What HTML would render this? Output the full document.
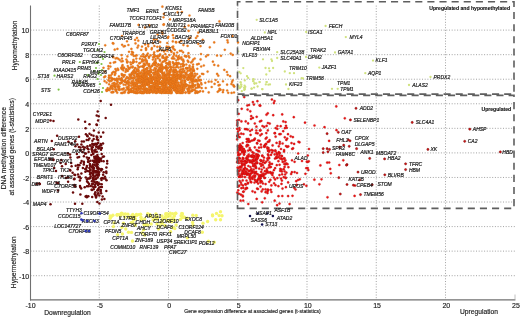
<!DOCTYPE html>
<html><head><meta charset="utf-8"><title>Scatter</title>
<style>
html,body{margin:0;padding:0;background:#fff;}
body{width:520px;height:317px;overflow:hidden;}
svg{display:block;font-family:"Liberation Sans",sans-serif;}
.lb text{font-size:5px;font-style:italic;fill:#1e1e1e;stroke:#1e1e1e;stroke-width:0.2px;}
.tk text{font-size:7px;fill:#1a1a1a;stroke:#1a1a1a;stroke-width:0.15px;}
.ax text{font-size:6.7px;fill:#1a1a1a;stroke:#1a1a1a;stroke-width:0.15px;}
</style></head><body>
<svg width="520" height="317" viewBox="0 0 520 317">
<rect width="520" height="317" fill="#fff"/>
<g stroke="#929292" stroke-width="0.85" stroke-dasharray="1 1.7" fill="none"><line x1="99.25" y1="5.6" x2="99.25" y2="300"/><line x1="168.50" y1="5.6" x2="168.50" y2="300"/><line x1="237.75" y1="5.6" x2="237.75" y2="300"/><line x1="307.00" y1="5.6" x2="307.00" y2="300"/><line x1="376.25" y1="5.6" x2="376.25" y2="300"/><line x1="445.50" y1="5.6" x2="445.50" y2="300"/><line x1="30.5" y1="275.70" x2="515" y2="275.70"/><line x1="30.5" y1="251.14" x2="515" y2="251.14"/><line x1="30.5" y1="226.58" x2="515" y2="226.58"/><line x1="30.5" y1="202.02" x2="515" y2="202.02"/><line x1="30.5" y1="177.46" x2="515" y2="177.46"/><line x1="30.5" y1="152.90" x2="515" y2="152.90"/><line x1="30.5" y1="128.34" x2="515" y2="128.34"/><line x1="30.5" y1="103.78" x2="515" y2="103.78"/><line x1="30.5" y1="79.22" x2="515" y2="79.22"/><line x1="30.5" y1="54.66" x2="515" y2="54.66"/><line x1="30.5" y1="30.10" x2="515" y2="30.10"/></g>
<g stroke="#707070" stroke-width="1.1" fill="none"><line x1="30.5" y1="5.6" x2="30.5" y2="300.4"/><line x1="30" y1="299.9" x2="515.4" y2="299.9"/></g><line x1="515" y1="294.5" x2="515" y2="299.5" stroke="#b0b0b0" stroke-width="0.8"/>
<g opacity="0.8" fill="#f3f34a"><circle cx="153.1" cy="220.0" r="1.7"/><circle cx="157.0" cy="218.9" r="1.7"/><circle cx="144.2" cy="224.9" r="1.7"/><circle cx="172.8" cy="227.8" r="1.7"/><circle cx="155.3" cy="218.3" r="1.7"/><circle cx="196.2" cy="215.5" r="1.7"/><circle cx="180.4" cy="219.4" r="1.7"/><circle cx="157.5" cy="218.7" r="1.7"/><circle cx="132.8" cy="214.5" r="1.7"/><circle cx="149.4" cy="215.4" r="1.7"/><circle cx="122.0" cy="227.4" r="1.7"/><circle cx="167.0" cy="213.8" r="1.7"/><circle cx="176.1" cy="225.0" r="1.7"/><circle cx="148.3" cy="214.8" r="1.7"/><circle cx="121.7" cy="213.3" r="1.7"/><circle cx="132.9" cy="222.8" r="1.7"/><circle cx="160.7" cy="222.3" r="1.7"/><circle cx="125.0" cy="217.1" r="1.7"/><circle cx="162.0" cy="216.0" r="1.7"/><circle cx="149.6" cy="214.7" r="1.7"/><circle cx="174.4" cy="216.1" r="1.7"/><circle cx="114.0" cy="222.9" r="1.7"/><circle cx="171.8" cy="221.7" r="1.7"/><circle cx="166.9" cy="216.6" r="1.7"/><circle cx="165.6" cy="216.9" r="1.7"/><circle cx="149.8" cy="214.5" r="1.7"/><circle cx="165.8" cy="213.7" r="1.7"/><circle cx="150.7" cy="215.9" r="1.7"/><circle cx="112.9" cy="215.2" r="1.7"/><circle cx="167.4" cy="220.5" r="1.7"/><circle cx="140.6" cy="214.2" r="1.7"/><circle cx="110.2" cy="215.9" r="1.7"/><circle cx="147.8" cy="225.2" r="1.7"/><circle cx="168.4" cy="215.8" r="1.7"/><circle cx="219.2" cy="215.6" r="1.7"/><circle cx="117.0" cy="215.1" r="1.7"/><circle cx="121.1" cy="213.6" r="1.7"/><circle cx="182.4" cy="213.8" r="1.7"/><circle cx="141.3" cy="219.6" r="1.7"/><circle cx="120.3" cy="215.5" r="1.7"/><circle cx="144.3" cy="224.5" r="1.7"/><circle cx="131.5" cy="232.4" r="1.7"/><circle cx="181.1" cy="215.8" r="1.7"/><circle cx="133.7" cy="219.7" r="1.7"/><circle cx="162.4" cy="219.8" r="1.7"/><circle cx="117.2" cy="214.7" r="1.7"/><circle cx="162.2" cy="222.7" r="1.7"/><circle cx="167.8" cy="216.0" r="1.7"/><circle cx="149.6" cy="214.6" r="1.7"/><circle cx="142.2" cy="232.9" r="1.7"/><circle cx="129.1" cy="217.3" r="1.7"/><circle cx="127.9" cy="214.2" r="1.7"/><circle cx="154.5" cy="219.4" r="1.7"/><circle cx="141.2" cy="219.4" r="1.7"/><circle cx="125.4" cy="214.0" r="1.7"/><circle cx="134.4" cy="217.4" r="1.7"/><circle cx="136.6" cy="215.4" r="1.7"/><circle cx="132.9" cy="217.1" r="1.7"/><circle cx="144.7" cy="219.0" r="1.7"/><circle cx="170.2" cy="220.0" r="1.7"/><circle cx="172.8" cy="217.9" r="1.7"/><circle cx="110.2" cy="218.3" r="1.7"/><circle cx="157.0" cy="224.0" r="1.7"/><circle cx="187.4" cy="218.2" r="1.7"/><circle cx="151.1" cy="216.7" r="1.7"/><circle cx="117.6" cy="234.6" r="1.7"/><circle cx="172.6" cy="213.8" r="1.7"/><circle cx="143.6" cy="229.8" r="1.7"/><circle cx="144.7" cy="235.0" r="1.7"/><circle cx="146.7" cy="224.6" r="1.7"/><circle cx="123.4" cy="214.3" r="1.7"/><circle cx="170.2" cy="213.2" r="1.7"/><circle cx="113.4" cy="226.6" r="1.7"/><circle cx="174.5" cy="220.2" r="1.7"/><circle cx="136.4" cy="214.5" r="1.7"/><circle cx="175.8" cy="213.2" r="1.7"/><circle cx="131.8" cy="215.6" r="1.7"/><circle cx="162.8" cy="219.1" r="1.7"/><circle cx="155.9" cy="213.9" r="1.7"/><circle cx="166.0" cy="215.1" r="1.7"/><circle cx="174.8" cy="228.6" r="1.7"/><circle cx="208.4" cy="241.2" r="1.7"/><circle cx="111.3" cy="216.6" r="1.7"/><circle cx="158.5" cy="229.1" r="1.7"/><circle cx="123.5" cy="223.3" r="1.7"/><circle cx="147.7" cy="213.7" r="1.7"/><circle cx="125.8" cy="229.0" r="1.7"/><circle cx="135.2" cy="225.2" r="1.7"/><circle cx="183.8" cy="216.9" r="1.7"/><circle cx="192.6" cy="222.5" r="1.7"/><circle cx="128.5" cy="232.3" r="1.7"/><circle cx="156.8" cy="215.1" r="1.7"/><circle cx="148.4" cy="214.8" r="1.7"/><circle cx="138.7" cy="214.6" r="1.7"/><circle cx="117.8" cy="214.6" r="1.7"/><circle cx="182.3" cy="217.5" r="1.7"/><circle cx="141.0" cy="217.3" r="1.7"/><circle cx="207.6" cy="221.5" r="1.7"/><circle cx="160.1" cy="225.9" r="1.7"/><circle cx="135.7" cy="215.7" r="1.7"/><circle cx="169.1" cy="221.2" r="1.7"/><circle cx="131.2" cy="217.6" r="1.7"/><circle cx="120.9" cy="214.1" r="1.7"/><circle cx="184.6" cy="217.4" r="1.7"/><circle cx="131.3" cy="222.6" r="1.7"/><circle cx="168.3" cy="215.7" r="1.7"/><circle cx="203.0" cy="223.3" r="1.7"/><circle cx="173.6" cy="219.3" r="1.7"/><circle cx="166.0" cy="217.1" r="1.7"/><circle cx="117.9" cy="214.6" r="1.7"/><circle cx="182.3" cy="216.6" r="1.7"/><circle cx="212.5" cy="214.9" r="1.7"/><circle cx="151.2" cy="224.0" r="1.7"/><circle cx="135.4" cy="219.1" r="1.7"/><circle cx="192.8" cy="215.2" r="1.7"/><circle cx="193.0" cy="225.3" r="1.7"/><circle cx="162.3" cy="223.4" r="1.7"/><circle cx="170.6" cy="231.8" r="1.7"/><circle cx="156.5" cy="216.3" r="1.7"/><circle cx="165.3" cy="217.4" r="1.7"/><circle cx="165.0" cy="225.4" r="1.7"/><circle cx="170.2" cy="216.1" r="1.7"/><circle cx="163.6" cy="218.4" r="1.7"/><circle cx="168.2" cy="214.4" r="1.7"/><circle cx="157.2" cy="216.6" r="1.7"/><circle cx="175.5" cy="213.4" r="1.7"/><circle cx="181.8" cy="213.4" r="1.7"/><circle cx="212.6" cy="215.8" r="1.7"/><circle cx="216.5" cy="213.4" r="1.7"/><circle cx="220.5" cy="211.8" r="1.7"/><circle cx="222.0" cy="215.8" r="1.7"/><circle cx="215.7" cy="219.7" r="1.7"/><circle cx="220.5" cy="219.7" r="1.7"/><circle cx="202.3" cy="232.3" r="1.7"/><circle cx="187.3" cy="237.9" r="1.7"/><circle cx="214.2" cy="242.3" r="1.7"/><circle cx="122.4" cy="234.0" r="1.7"/><circle cx="132.5" cy="241.0" r="1.7"/></g>
<g fill="#d0e27e"><circle cx="240.6" cy="82.3" r="1.15"/><circle cx="241.2" cy="84.6" r="1.15"/><circle cx="253.3" cy="81.2" r="1.15"/><circle cx="254.5" cy="83.5" r="1.15"/><circle cx="259.6" cy="82.1" r="1.15"/><circle cx="266.6" cy="82.1" r="1.15"/><circle cx="239.5" cy="88.1" r="1.15"/><circle cx="244.7" cy="89.0" r="1.15"/><circle cx="251.6" cy="88.7" r="1.15"/><circle cx="262.3" cy="89.2" r="1.15"/><circle cx="253.4" cy="79.1" r="1.15"/><circle cx="254.1" cy="87.6" r="1.15"/><circle cx="238.6" cy="86.0" r="1.15"/><circle cx="238.2" cy="51.3" r="1.15"/><circle cx="248.1" cy="77.9" r="1.15"/><circle cx="284.8" cy="71.5" r="1.15"/><circle cx="241.4" cy="86.5" r="1.15"/><circle cx="239.3" cy="72.0" r="1.15"/><circle cx="256.3" cy="83.3" r="1.15"/><circle cx="244.1" cy="87.6" r="1.15"/><circle cx="247.0" cy="76.2" r="1.15"/><circle cx="269.0" cy="68.3" r="1.15"/><circle cx="265.8" cy="84.4" r="1.15"/><circle cx="245.3" cy="86.9" r="1.15"/><circle cx="288.4" cy="89.0" r="1.15"/><circle cx="240.1" cy="87.5" r="1.15"/><circle cx="273.1" cy="68.0" r="1.15"/><circle cx="243.3" cy="68.1" r="1.15"/><circle cx="268.4" cy="84.7" r="1.15"/><circle cx="240.7" cy="73.3" r="1.15"/><circle cx="244.3" cy="89.9" r="1.15"/><circle cx="270.0" cy="84.4" r="1.15"/><circle cx="244.8" cy="80.4" r="1.15"/><circle cx="241.8" cy="91.2" r="1.15"/><circle cx="244.6" cy="85.6" r="1.15"/><circle cx="237.9" cy="85.8" r="1.15"/><circle cx="257.6" cy="86.5" r="1.15"/><circle cx="253.5" cy="79.5" r="1.15"/><circle cx="240.6" cy="82.3" r="1.15"/><circle cx="241.2" cy="84.6" r="1.15"/><circle cx="253.3" cy="81.2" r="1.15"/><circle cx="254.5" cy="83.5" r="1.15"/><circle cx="259.6" cy="82.1" r="1.15"/><circle cx="266.6" cy="82.1" r="1.15"/><circle cx="239.5" cy="88.1" r="1.15"/><circle cx="244.7" cy="89.0" r="1.15"/><circle cx="251.6" cy="88.7" r="1.15"/><circle cx="262.3" cy="89.2" r="1.15"/><circle cx="256.7" cy="19.8" r="1.15"/><circle cx="264.8" cy="32.5" r="1.15"/><circle cx="325.6" cy="26.0" r="1.15"/><circle cx="306.2" cy="32.0" r="1.15"/><circle cx="345.8" cy="37.1" r="1.15"/><circle cx="277.2" cy="52.2" r="1.15"/><circle cx="335.0" cy="52.5" r="1.15"/><circle cx="277.2" cy="58.0" r="1.15"/><circle cx="373.0" cy="60.6" r="1.15"/><circle cx="319.3" cy="67.6" r="1.15"/><circle cx="365.3" cy="73.2" r="1.15"/><circle cx="430.5" cy="77.0" r="1.15"/><circle cx="286.0" cy="84.5" r="1.15"/><circle cx="332.0" cy="88.8" r="1.15"/><circle cx="337.7" cy="88.8" r="1.15"/><circle cx="409.0" cy="85.0" r="1.15"/><circle cx="303.0" cy="78.5" r="1.15"/><circle cx="306.0" cy="57.0" r="1.15"/><circle cx="263.0" cy="59.3" r="1.15"/><circle cx="271.4" cy="59.3" r="1.15"/><circle cx="272.0" cy="61.0" r="1.15"/><circle cx="265.5" cy="68.0" r="1.15"/><circle cx="269.6" cy="71.0" r="1.15"/><circle cx="266.3" cy="74.5" r="1.15"/><circle cx="289.8" cy="73.2" r="1.15"/><circle cx="294.0" cy="73.2" r="1.15"/><circle cx="301.6" cy="78.2" r="1.15"/></g>
<g fill="#f07a18" stroke="#cc6a1a" stroke-width="0.25"><circle cx="152.1" cy="83.0" r="1.12"/><circle cx="152.8" cy="86.9" r="1.12"/><circle cx="136.2" cy="88.9" r="1.12"/><circle cx="184.3" cy="84.8" r="1.12"/><circle cx="182.5" cy="88.2" r="1.12"/><circle cx="167.4" cy="89.5" r="1.12"/><circle cx="118.9" cy="76.3" r="1.12"/><circle cx="170.0" cy="83.3" r="1.12"/><circle cx="118.3" cy="58.8" r="1.12"/><circle cx="137.2" cy="83.9" r="1.12"/><circle cx="165.3" cy="92.2" r="1.12"/><circle cx="170.4" cy="80.5" r="1.12"/><circle cx="165.4" cy="85.4" r="1.12"/><circle cx="142.5" cy="59.4" r="1.12"/><circle cx="171.2" cy="69.6" r="1.12"/><circle cx="143.5" cy="78.6" r="1.12"/><circle cx="150.0" cy="91.0" r="1.12"/><circle cx="173.0" cy="88.2" r="1.12"/><circle cx="147.6" cy="74.3" r="1.12"/><circle cx="145.9" cy="69.1" r="1.12"/><circle cx="139.1" cy="88.3" r="1.12"/><circle cx="168.2" cy="63.8" r="1.12"/><circle cx="159.3" cy="67.4" r="1.12"/><circle cx="110.7" cy="86.8" r="1.12"/><circle cx="155.6" cy="77.0" r="1.12"/><circle cx="169.8" cy="91.9" r="1.12"/><circle cx="123.6" cy="76.8" r="1.12"/><circle cx="173.9" cy="74.5" r="1.12"/><circle cx="192.0" cy="86.0" r="1.12"/><circle cx="160.9" cy="67.6" r="1.12"/><circle cx="172.6" cy="81.1" r="1.12"/><circle cx="147.5" cy="68.2" r="1.12"/><circle cx="135.3" cy="82.7" r="1.12"/><circle cx="188.5" cy="53.2" r="1.12"/><circle cx="123.8" cy="88.4" r="1.12"/><circle cx="192.1" cy="81.7" r="1.12"/><circle cx="113.4" cy="43.6" r="1.12"/><circle cx="166.5" cy="78.6" r="1.12"/><circle cx="131.7" cy="73.9" r="1.12"/><circle cx="184.1" cy="90.0" r="1.12"/><circle cx="163.9" cy="84.6" r="1.12"/><circle cx="195.6" cy="80.9" r="1.12"/><circle cx="170.3" cy="82.3" r="1.12"/><circle cx="121.2" cy="67.9" r="1.12"/><circle cx="180.6" cy="82.7" r="1.12"/><circle cx="111.6" cy="80.6" r="1.12"/><circle cx="177.9" cy="57.5" r="1.12"/><circle cx="153.8" cy="73.1" r="1.12"/><circle cx="127.2" cy="61.5" r="1.12"/><circle cx="171.1" cy="90.1" r="1.12"/><circle cx="165.8" cy="80.3" r="1.12"/><circle cx="160.9" cy="70.6" r="1.12"/><circle cx="142.5" cy="84.9" r="1.12"/><circle cx="182.6" cy="92.6" r="1.12"/><circle cx="137.4" cy="74.5" r="1.12"/><circle cx="192.6" cy="84.4" r="1.12"/><circle cx="125.6" cy="90.4" r="1.12"/><circle cx="154.6" cy="87.2" r="1.12"/><circle cx="191.2" cy="72.9" r="1.12"/><circle cx="187.8" cy="68.2" r="1.12"/><circle cx="139.6" cy="80.7" r="1.12"/><circle cx="184.7" cy="76.2" r="1.12"/><circle cx="166.2" cy="90.3" r="1.12"/><circle cx="161.7" cy="81.8" r="1.12"/><circle cx="154.0" cy="87.6" r="1.12"/><circle cx="171.6" cy="93.1" r="1.12"/><circle cx="176.1" cy="82.0" r="1.12"/><circle cx="165.8" cy="84.7" r="1.12"/><circle cx="149.3" cy="92.8" r="1.12"/><circle cx="179.9" cy="86.5" r="1.12"/><circle cx="167.2" cy="57.0" r="1.12"/><circle cx="131.7" cy="88.3" r="1.12"/><circle cx="167.5" cy="88.4" r="1.12"/><circle cx="148.0" cy="80.2" r="1.12"/><circle cx="164.8" cy="82.8" r="1.12"/><circle cx="166.5" cy="82.2" r="1.12"/><circle cx="155.8" cy="88.7" r="1.12"/><circle cx="156.6" cy="39.5" r="1.12"/><circle cx="146.6" cy="73.3" r="1.12"/><circle cx="130.6" cy="91.8" r="1.12"/><circle cx="180.6" cy="76.3" r="1.12"/><circle cx="193.2" cy="59.7" r="1.12"/><circle cx="149.8" cy="86.4" r="1.12"/><circle cx="172.8" cy="71.6" r="1.12"/><circle cx="183.7" cy="64.7" r="1.12"/><circle cx="174.2" cy="63.8" r="1.12"/><circle cx="162.3" cy="69.6" r="1.12"/><circle cx="154.6" cy="89.3" r="1.12"/><circle cx="176.9" cy="90.3" r="1.12"/><circle cx="156.0" cy="63.0" r="1.12"/><circle cx="182.8" cy="87.3" r="1.12"/><circle cx="131.1" cy="75.1" r="1.12"/><circle cx="151.9" cy="90.5" r="1.12"/><circle cx="174.7" cy="88.7" r="1.12"/><circle cx="173.1" cy="63.1" r="1.12"/><circle cx="122.6" cy="81.0" r="1.12"/><circle cx="135.4" cy="72.9" r="1.12"/><circle cx="123.5" cy="68.2" r="1.12"/><circle cx="175.7" cy="64.2" r="1.12"/><circle cx="136.0" cy="93.1" r="1.12"/><circle cx="131.3" cy="78.0" r="1.12"/><circle cx="195.5" cy="75.6" r="1.12"/><circle cx="194.9" cy="73.7" r="1.12"/><circle cx="153.9" cy="54.4" r="1.12"/><circle cx="191.2" cy="91.2" r="1.12"/><circle cx="143.9" cy="85.2" r="1.12"/><circle cx="167.8" cy="63.7" r="1.12"/><circle cx="134.1" cy="70.8" r="1.12"/><circle cx="193.1" cy="64.6" r="1.12"/><circle cx="153.9" cy="78.5" r="1.12"/><circle cx="182.1" cy="90.8" r="1.12"/><circle cx="161.0" cy="65.1" r="1.12"/><circle cx="151.9" cy="48.0" r="1.12"/><circle cx="149.0" cy="56.7" r="1.12"/><circle cx="177.4" cy="86.9" r="1.12"/><circle cx="143.7" cy="92.9" r="1.12"/><circle cx="177.7" cy="91.5" r="1.12"/><circle cx="189.3" cy="91.9" r="1.12"/><circle cx="182.6" cy="63.8" r="1.12"/><circle cx="196.0" cy="79.9" r="1.12"/><circle cx="178.8" cy="56.2" r="1.12"/><circle cx="132.6" cy="54.5" r="1.12"/><circle cx="183.3" cy="68.9" r="1.12"/><circle cx="157.8" cy="89.3" r="1.12"/><circle cx="157.4" cy="81.5" r="1.12"/><circle cx="163.6" cy="57.9" r="1.12"/><circle cx="159.2" cy="82.7" r="1.12"/><circle cx="181.7" cy="89.2" r="1.12"/><circle cx="128.5" cy="82.2" r="1.12"/><circle cx="183.4" cy="60.8" r="1.12"/><circle cx="144.0" cy="73.3" r="1.12"/><circle cx="176.8" cy="92.9" r="1.12"/><circle cx="177.1" cy="89.8" r="1.12"/><circle cx="130.4" cy="62.4" r="1.12"/><circle cx="143.1" cy="75.0" r="1.12"/><circle cx="144.8" cy="75.4" r="1.12"/><circle cx="140.0" cy="63.0" r="1.12"/><circle cx="155.4" cy="69.9" r="1.12"/><circle cx="166.7" cy="46.7" r="1.12"/><circle cx="165.8" cy="80.5" r="1.12"/><circle cx="112.4" cy="78.9" r="1.12"/><circle cx="151.6" cy="49.3" r="1.12"/><circle cx="137.5" cy="87.4" r="1.12"/><circle cx="147.3" cy="77.8" r="1.12"/><circle cx="175.7" cy="80.0" r="1.12"/><circle cx="165.8" cy="66.9" r="1.12"/><circle cx="173.6" cy="84.2" r="1.12"/><circle cx="109.0" cy="75.5" r="1.12"/><circle cx="188.9" cy="87.3" r="1.12"/><circle cx="147.1" cy="55.0" r="1.12"/><circle cx="116.7" cy="83.9" r="1.12"/><circle cx="136.3" cy="79.5" r="1.12"/><circle cx="155.3" cy="82.1" r="1.12"/><circle cx="179.4" cy="75.3" r="1.12"/><circle cx="156.0" cy="87.3" r="1.12"/><circle cx="177.5" cy="92.4" r="1.12"/><circle cx="153.5" cy="73.1" r="1.12"/><circle cx="149.7" cy="75.6" r="1.12"/><circle cx="160.5" cy="76.3" r="1.12"/><circle cx="138.3" cy="40.7" r="1.12"/><circle cx="185.0" cy="80.6" r="1.12"/><circle cx="172.7" cy="83.7" r="1.12"/><circle cx="197.8" cy="84.7" r="1.12"/><circle cx="156.5" cy="82.8" r="1.12"/><circle cx="112.3" cy="72.8" r="1.12"/><circle cx="165.8" cy="79.3" r="1.12"/><circle cx="189.3" cy="57.5" r="1.12"/><circle cx="125.1" cy="80.0" r="1.12"/><circle cx="165.0" cy="89.5" r="1.12"/><circle cx="148.7" cy="74.0" r="1.12"/><circle cx="182.5" cy="69.6" r="1.12"/><circle cx="126.4" cy="59.6" r="1.12"/><circle cx="181.4" cy="57.3" r="1.12"/><circle cx="177.2" cy="76.0" r="1.12"/><circle cx="164.2" cy="50.7" r="1.12"/><circle cx="140.5" cy="91.9" r="1.12"/><circle cx="170.4" cy="78.8" r="1.12"/><circle cx="155.2" cy="84.1" r="1.12"/><circle cx="167.0" cy="80.6" r="1.12"/><circle cx="163.0" cy="86.7" r="1.12"/><circle cx="176.7" cy="92.1" r="1.12"/><circle cx="138.7" cy="80.8" r="1.12"/><circle cx="158.1" cy="90.9" r="1.12"/><circle cx="161.8" cy="93.1" r="1.12"/><circle cx="162.3" cy="90.5" r="1.12"/><circle cx="128.5" cy="84.8" r="1.12"/><circle cx="182.9" cy="84.6" r="1.12"/><circle cx="153.7" cy="84.3" r="1.12"/><circle cx="135.4" cy="55.8" r="1.12"/><circle cx="159.5" cy="74.8" r="1.12"/><circle cx="175.5" cy="71.8" r="1.12"/><circle cx="133.6" cy="62.1" r="1.12"/><circle cx="149.1" cy="66.2" r="1.12"/><circle cx="140.1" cy="82.9" r="1.12"/><circle cx="169.8" cy="89.6" r="1.12"/><circle cx="193.1" cy="79.2" r="1.12"/><circle cx="157.6" cy="81.4" r="1.12"/><circle cx="197.1" cy="74.0" r="1.12"/><circle cx="182.2" cy="71.8" r="1.12"/><circle cx="154.6" cy="78.8" r="1.12"/><circle cx="151.1" cy="72.1" r="1.12"/><circle cx="172.2" cy="75.3" r="1.12"/><circle cx="153.1" cy="43.1" r="1.12"/><circle cx="187.3" cy="88.9" r="1.12"/><circle cx="160.2" cy="42.1" r="1.12"/><circle cx="150.0" cy="75.9" r="1.12"/><circle cx="181.2" cy="93.0" r="1.12"/><circle cx="130.6" cy="89.4" r="1.12"/><circle cx="166.6" cy="70.9" r="1.12"/><circle cx="176.5" cy="92.6" r="1.12"/><circle cx="178.2" cy="82.5" r="1.12"/><circle cx="163.0" cy="92.0" r="1.12"/><circle cx="152.4" cy="79.6" r="1.12"/><circle cx="133.3" cy="80.7" r="1.12"/><circle cx="158.2" cy="64.3" r="1.12"/><circle cx="147.8" cy="53.6" r="1.12"/><circle cx="142.0" cy="81.9" r="1.12"/><circle cx="171.4" cy="92.0" r="1.12"/><circle cx="152.6" cy="65.3" r="1.12"/><circle cx="201.1" cy="83.0" r="1.12"/><circle cx="183.9" cy="75.8" r="1.12"/><circle cx="153.8" cy="57.3" r="1.12"/><circle cx="176.5" cy="74.7" r="1.12"/><circle cx="113.4" cy="92.1" r="1.12"/><circle cx="173.0" cy="58.5" r="1.12"/><circle cx="115.1" cy="72.2" r="1.12"/><circle cx="143.3" cy="65.5" r="1.12"/><circle cx="158.9" cy="88.2" r="1.12"/><circle cx="173.0" cy="79.3" r="1.12"/><circle cx="193.5" cy="70.2" r="1.12"/><circle cx="127.2" cy="83.2" r="1.12"/><circle cx="133.2" cy="71.9" r="1.12"/><circle cx="156.2" cy="93.0" r="1.12"/><circle cx="169.7" cy="61.9" r="1.12"/><circle cx="129.0" cy="92.6" r="1.12"/><circle cx="153.4" cy="87.0" r="1.12"/><circle cx="156.6" cy="78.2" r="1.12"/><circle cx="174.6" cy="86.1" r="1.12"/><circle cx="156.0" cy="79.9" r="1.12"/><circle cx="154.0" cy="39.6" r="1.12"/><circle cx="135.0" cy="92.4" r="1.12"/><circle cx="122.7" cy="89.2" r="1.12"/><circle cx="161.6" cy="66.0" r="1.12"/><circle cx="152.2" cy="86.9" r="1.12"/><circle cx="168.9" cy="81.1" r="1.12"/><circle cx="157.3" cy="76.4" r="1.12"/><circle cx="154.7" cy="91.8" r="1.12"/><circle cx="175.4" cy="87.3" r="1.12"/><circle cx="141.1" cy="66.5" r="1.12"/><circle cx="149.3" cy="78.5" r="1.12"/><circle cx="131.9" cy="90.8" r="1.12"/><circle cx="146.6" cy="91.0" r="1.12"/><circle cx="170.4" cy="85.0" r="1.12"/><circle cx="150.5" cy="71.5" r="1.12"/><circle cx="161.0" cy="71.2" r="1.12"/><circle cx="140.4" cy="88.2" r="1.12"/><circle cx="172.3" cy="47.2" r="1.12"/><circle cx="165.7" cy="68.0" r="1.12"/><circle cx="176.2" cy="74.5" r="1.12"/><circle cx="170.1" cy="90.0" r="1.12"/><circle cx="170.1" cy="71.9" r="1.12"/><circle cx="185.9" cy="73.1" r="1.12"/><circle cx="164.0" cy="51.4" r="1.12"/><circle cx="152.9" cy="92.7" r="1.12"/><circle cx="185.5" cy="92.6" r="1.12"/><circle cx="139.1" cy="88.0" r="1.12"/><circle cx="171.8" cy="79.1" r="1.12"/><circle cx="139.9" cy="58.7" r="1.12"/><circle cx="197.4" cy="92.7" r="1.12"/><circle cx="164.4" cy="84.7" r="1.12"/><circle cx="191.4" cy="79.2" r="1.12"/><circle cx="174.0" cy="83.7" r="1.12"/><circle cx="141.8" cy="79.0" r="1.12"/><circle cx="189.5" cy="92.9" r="1.12"/><circle cx="142.2" cy="77.2" r="1.12"/><circle cx="156.9" cy="87.0" r="1.12"/><circle cx="194.0" cy="70.9" r="1.12"/><circle cx="145.9" cy="48.2" r="1.12"/><circle cx="158.2" cy="77.7" r="1.12"/><circle cx="142.9" cy="92.2" r="1.12"/><circle cx="116.9" cy="58.0" r="1.12"/><circle cx="190.3" cy="69.2" r="1.12"/><circle cx="122.7" cy="61.2" r="1.12"/><circle cx="185.8" cy="84.1" r="1.12"/><circle cx="156.7" cy="87.0" r="1.12"/><circle cx="155.3" cy="71.7" r="1.12"/><circle cx="158.7" cy="64.8" r="1.12"/><circle cx="156.4" cy="87.0" r="1.12"/><circle cx="169.1" cy="88.5" r="1.12"/><circle cx="136.8" cy="90.0" r="1.12"/><circle cx="146.7" cy="62.3" r="1.12"/><circle cx="176.2" cy="90.8" r="1.12"/><circle cx="147.0" cy="79.3" r="1.12"/><circle cx="136.0" cy="86.2" r="1.12"/><circle cx="165.1" cy="83.0" r="1.12"/><circle cx="171.5" cy="51.9" r="1.12"/><circle cx="141.5" cy="92.8" r="1.12"/><circle cx="114.2" cy="82.9" r="1.12"/><circle cx="162.1" cy="90.1" r="1.12"/><circle cx="167.7" cy="88.4" r="1.12"/><circle cx="166.7" cy="92.1" r="1.12"/><circle cx="176.3" cy="55.9" r="1.12"/><circle cx="137.3" cy="93.1" r="1.12"/><circle cx="133.8" cy="72.6" r="1.12"/><circle cx="172.9" cy="80.3" r="1.12"/><circle cx="173.1" cy="78.4" r="1.12"/><circle cx="165.3" cy="83.1" r="1.12"/><circle cx="155.6" cy="65.4" r="1.12"/><circle cx="157.4" cy="84.2" r="1.12"/><circle cx="145.6" cy="91.1" r="1.12"/><circle cx="175.8" cy="75.8" r="1.12"/><circle cx="173.2" cy="56.5" r="1.12"/><circle cx="145.1" cy="90.2" r="1.12"/><circle cx="154.6" cy="62.8" r="1.12"/><circle cx="165.6" cy="75.5" r="1.12"/><circle cx="141.9" cy="92.8" r="1.12"/><circle cx="157.9" cy="58.2" r="1.12"/><circle cx="192.0" cy="75.4" r="1.12"/><circle cx="116.9" cy="78.5" r="1.12"/><circle cx="155.0" cy="84.3" r="1.12"/><circle cx="166.7" cy="63.6" r="1.12"/><circle cx="153.1" cy="63.8" r="1.12"/><circle cx="144.6" cy="73.0" r="1.12"/><circle cx="126.1" cy="69.1" r="1.12"/><circle cx="166.0" cy="59.8" r="1.12"/><circle cx="168.2" cy="88.3" r="1.12"/><circle cx="145.9" cy="79.9" r="1.12"/><circle cx="170.6" cy="82.3" r="1.12"/><circle cx="134.2" cy="70.1" r="1.12"/><circle cx="165.0" cy="88.2" r="1.12"/><circle cx="127.3" cy="89.1" r="1.12"/><circle cx="145.3" cy="84.1" r="1.12"/><circle cx="155.4" cy="91.4" r="1.12"/><circle cx="149.8" cy="72.4" r="1.12"/><circle cx="190.9" cy="85.9" r="1.12"/><circle cx="178.0" cy="78.2" r="1.12"/><circle cx="159.8" cy="78.4" r="1.12"/><circle cx="193.8" cy="85.6" r="1.12"/><circle cx="156.4" cy="89.2" r="1.12"/><circle cx="122.8" cy="92.8" r="1.12"/><circle cx="142.2" cy="85.8" r="1.12"/><circle cx="131.5" cy="54.3" r="1.12"/><circle cx="159.0" cy="88.0" r="1.12"/><circle cx="145.2" cy="75.6" r="1.12"/><circle cx="151.7" cy="81.2" r="1.12"/><circle cx="169.4" cy="62.3" r="1.12"/><circle cx="142.2" cy="92.7" r="1.12"/><circle cx="178.1" cy="89.9" r="1.12"/><circle cx="165.4" cy="80.2" r="1.12"/><circle cx="165.2" cy="60.4" r="1.12"/><circle cx="142.0" cy="46.6" r="1.12"/><circle cx="143.0" cy="92.8" r="1.12"/><circle cx="162.2" cy="73.0" r="1.12"/><circle cx="129.0" cy="51.8" r="1.12"/><circle cx="172.4" cy="77.5" r="1.12"/><circle cx="172.8" cy="41.4" r="1.12"/><circle cx="162.9" cy="88.1" r="1.12"/><circle cx="180.0" cy="85.8" r="1.12"/><circle cx="197.3" cy="68.8" r="1.12"/><circle cx="149.3" cy="25.4" r="1.12"/><circle cx="177.2" cy="85.8" r="1.12"/><circle cx="179.9" cy="50.8" r="1.12"/><circle cx="158.0" cy="88.1" r="1.12"/><circle cx="146.3" cy="76.6" r="1.12"/><circle cx="143.3" cy="80.5" r="1.12"/><circle cx="159.0" cy="91.8" r="1.12"/><circle cx="154.0" cy="75.1" r="1.12"/><circle cx="169.7" cy="90.3" r="1.12"/><circle cx="173.8" cy="90.1" r="1.12"/><circle cx="131.0" cy="64.5" r="1.12"/><circle cx="169.1" cy="74.3" r="1.12"/><circle cx="183.5" cy="86.3" r="1.12"/><circle cx="121.3" cy="61.5" r="1.12"/><circle cx="166.0" cy="75.6" r="1.12"/><circle cx="162.8" cy="90.2" r="1.12"/><circle cx="121.7" cy="74.0" r="1.12"/><circle cx="158.8" cy="87.5" r="1.12"/><circle cx="166.4" cy="91.6" r="1.12"/><circle cx="174.0" cy="85.8" r="1.12"/><circle cx="157.3" cy="51.1" r="1.12"/><circle cx="148.1" cy="79.8" r="1.12"/><circle cx="189.6" cy="85.9" r="1.12"/><circle cx="155.3" cy="62.0" r="1.12"/><circle cx="150.4" cy="78.7" r="1.12"/><circle cx="197.6" cy="92.3" r="1.12"/><circle cx="187.0" cy="79.1" r="1.12"/><circle cx="163.0" cy="91.6" r="1.12"/><circle cx="160.8" cy="70.9" r="1.12"/><circle cx="142.4" cy="81.8" r="1.12"/><circle cx="169.8" cy="72.4" r="1.12"/><circle cx="169.8" cy="81.9" r="1.12"/><circle cx="151.6" cy="82.7" r="1.12"/><circle cx="121.6" cy="78.2" r="1.12"/><circle cx="121.7" cy="79.4" r="1.12"/><circle cx="145.0" cy="85.2" r="1.12"/><circle cx="178.3" cy="91.5" r="1.12"/><circle cx="148.8" cy="82.4" r="1.12"/><circle cx="195.3" cy="93.0" r="1.12"/><circle cx="166.7" cy="68.7" r="1.12"/><circle cx="164.4" cy="67.9" r="1.12"/><circle cx="111.4" cy="92.3" r="1.12"/><circle cx="167.9" cy="74.1" r="1.12"/><circle cx="173.9" cy="87.7" r="1.12"/><circle cx="133.3" cy="91.1" r="1.12"/><circle cx="182.4" cy="71.7" r="1.12"/><circle cx="133.9" cy="92.6" r="1.12"/><circle cx="112.5" cy="88.0" r="1.12"/><circle cx="147.8" cy="84.2" r="1.12"/><circle cx="141.6" cy="75.8" r="1.12"/><circle cx="148.8" cy="92.1" r="1.12"/><circle cx="142.5" cy="92.9" r="1.12"/><circle cx="175.8" cy="69.8" r="1.12"/><circle cx="198.3" cy="77.7" r="1.12"/><circle cx="148.2" cy="44.3" r="1.12"/><circle cx="141.0" cy="92.4" r="1.12"/><circle cx="170.4" cy="66.4" r="1.12"/><circle cx="169.0" cy="92.6" r="1.12"/><circle cx="115.1" cy="87.4" r="1.12"/><circle cx="186.2" cy="56.4" r="1.12"/><circle cx="177.1" cy="89.0" r="1.12"/><circle cx="169.3" cy="84.4" r="1.12"/><circle cx="188.8" cy="88.7" r="1.12"/><circle cx="178.7" cy="85.0" r="1.12"/><circle cx="175.3" cy="77.1" r="1.12"/><circle cx="155.6" cy="59.1" r="1.12"/><circle cx="168.6" cy="90.0" r="1.12"/><circle cx="131.2" cy="77.6" r="1.12"/><circle cx="162.7" cy="74.6" r="1.12"/><circle cx="168.1" cy="82.8" r="1.12"/><circle cx="157.1" cy="66.5" r="1.12"/><circle cx="148.9" cy="82.3" r="1.12"/><circle cx="179.0" cy="91.8" r="1.12"/><circle cx="151.6" cy="81.8" r="1.12"/><circle cx="152.1" cy="80.8" r="1.12"/><circle cx="166.4" cy="69.3" r="1.12"/><circle cx="168.2" cy="89.6" r="1.12"/><circle cx="134.6" cy="77.9" r="1.12"/><circle cx="151.5" cy="86.5" r="1.12"/><circle cx="176.8" cy="67.1" r="1.12"/><circle cx="141.9" cy="84.5" r="1.12"/><circle cx="137.5" cy="47.6" r="1.12"/><circle cx="146.5" cy="69.6" r="1.12"/><circle cx="142.9" cy="77.2" r="1.12"/><circle cx="147.9" cy="83.3" r="1.12"/><circle cx="155.9" cy="80.0" r="1.12"/><circle cx="160.0" cy="60.8" r="1.12"/><circle cx="178.2" cy="59.3" r="1.12"/><circle cx="185.2" cy="81.7" r="1.12"/><circle cx="161.5" cy="68.3" r="1.12"/><circle cx="160.9" cy="65.8" r="1.12"/><circle cx="118.2" cy="69.9" r="1.12"/><circle cx="175.5" cy="77.1" r="1.12"/><circle cx="178.3" cy="83.3" r="1.12"/><circle cx="173.4" cy="48.7" r="1.12"/><circle cx="151.0" cy="75.4" r="1.12"/><circle cx="175.4" cy="75.8" r="1.12"/><circle cx="162.1" cy="83.4" r="1.12"/><circle cx="135.7" cy="86.6" r="1.12"/><circle cx="159.0" cy="75.7" r="1.12"/><circle cx="147.7" cy="70.6" r="1.12"/><circle cx="139.6" cy="87.9" r="1.12"/><circle cx="145.7" cy="90.0" r="1.12"/><circle cx="141.8" cy="61.7" r="1.12"/><circle cx="183.8" cy="87.1" r="1.12"/><circle cx="145.0" cy="89.1" r="1.12"/><circle cx="181.4" cy="73.9" r="1.12"/><circle cx="155.5" cy="82.5" r="1.12"/><circle cx="170.5" cy="86.5" r="1.12"/><circle cx="108.5" cy="68.7" r="1.12"/><circle cx="165.8" cy="92.8" r="1.12"/><circle cx="151.6" cy="87.9" r="1.12"/><circle cx="148.1" cy="73.0" r="1.12"/><circle cx="140.7" cy="81.4" r="1.12"/><circle cx="143.7" cy="70.3" r="1.12"/><circle cx="173.1" cy="67.4" r="1.12"/><circle cx="173.6" cy="73.2" r="1.12"/><circle cx="166.4" cy="66.1" r="1.12"/><circle cx="162.9" cy="78.7" r="1.12"/><circle cx="159.2" cy="90.2" r="1.12"/><circle cx="117.3" cy="81.2" r="1.12"/><circle cx="162.0" cy="83.9" r="1.12"/><circle cx="160.0" cy="78.7" r="1.12"/><circle cx="176.2" cy="75.3" r="1.12"/><circle cx="172.0" cy="87.4" r="1.12"/><circle cx="157.7" cy="87.8" r="1.12"/><circle cx="150.7" cy="89.6" r="1.12"/><circle cx="117.5" cy="86.6" r="1.12"/><circle cx="157.5" cy="74.0" r="1.12"/><circle cx="157.5" cy="83.0" r="1.12"/><circle cx="154.2" cy="52.3" r="1.12"/><circle cx="153.3" cy="57.2" r="1.12"/><circle cx="181.2" cy="40.9" r="1.12"/><circle cx="161.1" cy="82.9" r="1.12"/><circle cx="151.0" cy="82.3" r="1.12"/><circle cx="105.3" cy="76.4" r="1.12"/><circle cx="166.9" cy="92.6" r="1.12"/><circle cx="144.3" cy="80.6" r="1.12"/><circle cx="146.7" cy="88.7" r="1.12"/><circle cx="146.1" cy="49.0" r="1.12"/><circle cx="157.4" cy="89.1" r="1.12"/><circle cx="175.9" cy="75.9" r="1.12"/><circle cx="157.3" cy="81.0" r="1.12"/><circle cx="161.5" cy="68.7" r="1.12"/><circle cx="136.7" cy="55.4" r="1.12"/><circle cx="178.3" cy="63.0" r="1.12"/><circle cx="179.8" cy="77.1" r="1.12"/><circle cx="143.5" cy="79.1" r="1.12"/><circle cx="179.0" cy="75.2" r="1.12"/><circle cx="115.4" cy="73.5" r="1.12"/><circle cx="141.9" cy="78.8" r="1.12"/><circle cx="163.6" cy="78.4" r="1.12"/><circle cx="189.0" cy="91.6" r="1.12"/><circle cx="132.5" cy="67.4" r="1.12"/><circle cx="144.4" cy="88.7" r="1.12"/><circle cx="157.8" cy="86.9" r="1.12"/><circle cx="165.8" cy="79.5" r="1.12"/><circle cx="114.7" cy="49.7" r="1.12"/><circle cx="128.3" cy="78.2" r="1.12"/><circle cx="157.6" cy="92.0" r="1.12"/><circle cx="171.2" cy="90.7" r="1.12"/><circle cx="139.4" cy="79.2" r="1.12"/><circle cx="108.2" cy="89.8" r="1.12"/><circle cx="169.5" cy="82.7" r="1.12"/><circle cx="155.3" cy="89.7" r="1.12"/><circle cx="180.2" cy="92.8" r="1.12"/><circle cx="175.5" cy="81.7" r="1.12"/><circle cx="163.1" cy="67.4" r="1.12"/><circle cx="144.6" cy="86.0" r="1.12"/><circle cx="139.1" cy="77.4" r="1.12"/><circle cx="194.7" cy="58.5" r="1.12"/><circle cx="158.7" cy="81.9" r="1.12"/><circle cx="185.8" cy="77.2" r="1.12"/><circle cx="186.5" cy="68.3" r="1.12"/><circle cx="143.1" cy="84.2" r="1.12"/><circle cx="191.9" cy="91.1" r="1.12"/><circle cx="137.9" cy="86.1" r="1.12"/><circle cx="142.6" cy="76.2" r="1.12"/><circle cx="193.5" cy="80.8" r="1.12"/><circle cx="158.6" cy="50.6" r="1.12"/><circle cx="186.0" cy="86.5" r="1.12"/><circle cx="143.7" cy="85.0" r="1.12"/><circle cx="196.3" cy="80.9" r="1.12"/><circle cx="187.8" cy="91.2" r="1.12"/><circle cx="170.3" cy="89.1" r="1.12"/><circle cx="168.2" cy="67.5" r="1.12"/><circle cx="124.4" cy="91.9" r="1.12"/><circle cx="163.8" cy="81.9" r="1.12"/><circle cx="150.9" cy="77.6" r="1.12"/><circle cx="172.9" cy="86.7" r="1.12"/><circle cx="121.6" cy="55.2" r="1.12"/><circle cx="159.9" cy="92.4" r="1.12"/><circle cx="131.8" cy="92.0" r="1.12"/><circle cx="132.3" cy="91.7" r="1.12"/><circle cx="169.1" cy="92.5" r="1.12"/><circle cx="164.7" cy="76.4" r="1.12"/><circle cx="191.8" cy="80.3" r="1.12"/><circle cx="115.3" cy="89.4" r="1.12"/><circle cx="140.1" cy="73.3" r="1.12"/><circle cx="149.8" cy="87.4" r="1.12"/><circle cx="130.3" cy="90.4" r="1.12"/><circle cx="191.7" cy="79.7" r="1.12"/><circle cx="154.5" cy="90.6" r="1.12"/><circle cx="155.3" cy="92.2" r="1.12"/><circle cx="175.4" cy="91.3" r="1.12"/><circle cx="157.6" cy="75.6" r="1.12"/><circle cx="173.4" cy="81.1" r="1.12"/><circle cx="161.6" cy="50.3" r="1.12"/><circle cx="133.5" cy="71.0" r="1.12"/><circle cx="124.9" cy="46.0" r="1.12"/><circle cx="113.9" cy="85.9" r="1.12"/><circle cx="143.1" cy="56.4" r="1.12"/><circle cx="123.2" cy="81.0" r="1.12"/><circle cx="139.9" cy="85.9" r="1.12"/><circle cx="165.9" cy="66.4" r="1.12"/><circle cx="182.4" cy="90.3" r="1.12"/><circle cx="162.4" cy="57.7" r="1.12"/><circle cx="191.7" cy="87.0" r="1.12"/><circle cx="168.9" cy="87.5" r="1.12"/><circle cx="159.3" cy="83.3" r="1.12"/><circle cx="126.9" cy="82.6" r="1.12"/><circle cx="121.8" cy="69.1" r="1.12"/><circle cx="170.7" cy="69.4" r="1.12"/><circle cx="191.0" cy="75.6" r="1.12"/><circle cx="113.2" cy="56.9" r="1.12"/><circle cx="177.2" cy="52.5" r="1.12"/><circle cx="129.1" cy="82.7" r="1.12"/><circle cx="168.1" cy="89.1" r="1.12"/><circle cx="162.1" cy="72.4" r="1.12"/><circle cx="122.9" cy="68.7" r="1.12"/><circle cx="125.3" cy="82.1" r="1.12"/><circle cx="143.9" cy="85.9" r="1.12"/><circle cx="164.4" cy="92.5" r="1.12"/><circle cx="142.2" cy="84.4" r="1.12"/><circle cx="180.5" cy="78.1" r="1.12"/><circle cx="160.5" cy="86.8" r="1.12"/><circle cx="194.7" cy="81.4" r="1.12"/><circle cx="173.4" cy="70.4" r="1.12"/><circle cx="151.9" cy="76.9" r="1.12"/><circle cx="131.8" cy="73.2" r="1.12"/><circle cx="162.8" cy="61.9" r="1.12"/><circle cx="173.9" cy="75.6" r="1.12"/><circle cx="188.3" cy="79.8" r="1.12"/><circle cx="154.2" cy="87.5" r="1.12"/><circle cx="150.3" cy="88.0" r="1.12"/><circle cx="145.1" cy="79.9" r="1.12"/><circle cx="158.2" cy="88.9" r="1.12"/><circle cx="185.5" cy="92.5" r="1.12"/><circle cx="116.1" cy="91.2" r="1.12"/><circle cx="169.1" cy="72.1" r="1.12"/><circle cx="132.6" cy="62.7" r="1.12"/><circle cx="154.4" cy="46.0" r="1.12"/><circle cx="154.7" cy="79.7" r="1.12"/><circle cx="149.5" cy="71.2" r="1.12"/><circle cx="183.9" cy="75.3" r="1.12"/><circle cx="194.3" cy="76.3" r="1.12"/><circle cx="144.6" cy="60.4" r="1.12"/><circle cx="142.8" cy="79.8" r="1.12"/><circle cx="138.9" cy="81.7" r="1.12"/><circle cx="165.8" cy="87.8" r="1.12"/><circle cx="162.2" cy="90.2" r="1.12"/><circle cx="163.1" cy="78.3" r="1.12"/><circle cx="180.7" cy="79.6" r="1.12"/><circle cx="122.6" cy="65.1" r="1.12"/><circle cx="160.8" cy="71.4" r="1.12"/><circle cx="119.4" cy="86.6" r="1.12"/><circle cx="158.8" cy="64.8" r="1.12"/><circle cx="146.0" cy="78.9" r="1.12"/><circle cx="183.5" cy="61.8" r="1.12"/><circle cx="137.8" cy="65.6" r="1.12"/><circle cx="170.4" cy="74.6" r="1.12"/><circle cx="162.7" cy="67.5" r="1.12"/><circle cx="176.5" cy="77.5" r="1.12"/><circle cx="171.1" cy="83.5" r="1.12"/><circle cx="165.3" cy="77.6" r="1.12"/><circle cx="145.0" cy="56.9" r="1.12"/><circle cx="165.8" cy="83.6" r="1.12"/><circle cx="158.4" cy="75.6" r="1.12"/><circle cx="144.3" cy="91.5" r="1.12"/><circle cx="150.9" cy="81.9" r="1.12"/><circle cx="195.7" cy="88.2" r="1.12"/><circle cx="194.1" cy="77.6" r="1.12"/><circle cx="171.9" cy="58.3" r="1.12"/><circle cx="153.9" cy="90.9" r="1.12"/><circle cx="133.1" cy="83.8" r="1.12"/><circle cx="189.8" cy="82.6" r="1.12"/><circle cx="168.1" cy="89.2" r="1.12"/><circle cx="162.1" cy="65.1" r="1.12"/><circle cx="182.8" cy="85.0" r="1.12"/><circle cx="132.1" cy="78.3" r="1.12"/><circle cx="138.7" cy="76.3" r="1.12"/><circle cx="183.0" cy="66.4" r="1.12"/><circle cx="179.9" cy="75.6" r="1.12"/><circle cx="144.5" cy="63.9" r="1.12"/><circle cx="140.6" cy="80.6" r="1.12"/><circle cx="166.2" cy="86.1" r="1.12"/><circle cx="110.4" cy="88.5" r="1.12"/><circle cx="122.0" cy="75.3" r="1.12"/><circle cx="129.7" cy="79.5" r="1.12"/><circle cx="138.0" cy="82.4" r="1.12"/><circle cx="188.7" cy="76.4" r="1.12"/><circle cx="172.3" cy="86.8" r="1.12"/><circle cx="121.7" cy="82.9" r="1.12"/><circle cx="145.1" cy="73.9" r="1.12"/><circle cx="170.1" cy="78.5" r="1.12"/><circle cx="141.4" cy="72.6" r="1.12"/><circle cx="109.7" cy="81.4" r="1.12"/><circle cx="189.4" cy="89.7" r="1.12"/><circle cx="135.1" cy="39.9" r="1.12"/><circle cx="162.2" cy="69.2" r="1.12"/><circle cx="165.1" cy="74.9" r="1.12"/><circle cx="192.9" cy="71.0" r="1.12"/><circle cx="147.7" cy="72.4" r="1.12"/><circle cx="176.4" cy="62.9" r="1.12"/><circle cx="148.6" cy="65.1" r="1.12"/><circle cx="155.5" cy="81.7" r="1.12"/><circle cx="133.0" cy="52.7" r="1.12"/><circle cx="188.7" cy="85.7" r="1.12"/><circle cx="192.8" cy="67.1" r="1.12"/><circle cx="183.1" cy="52.3" r="1.12"/><circle cx="153.2" cy="87.8" r="1.12"/><circle cx="154.5" cy="73.5" r="1.12"/><circle cx="182.5" cy="91.4" r="1.12"/><circle cx="126.1" cy="78.5" r="1.12"/><circle cx="147.1" cy="80.7" r="1.12"/><circle cx="164.3" cy="61.2" r="1.12"/><circle cx="184.9" cy="84.2" r="1.12"/><circle cx="166.3" cy="58.4" r="1.12"/><circle cx="145.5" cy="84.6" r="1.12"/><circle cx="186.1" cy="68.4" r="1.12"/><circle cx="170.3" cy="67.2" r="1.12"/><circle cx="128.4" cy="88.2" r="1.12"/><circle cx="167.2" cy="43.0" r="1.12"/><circle cx="137.8" cy="70.7" r="1.12"/><circle cx="176.3" cy="60.3" r="1.12"/><circle cx="138.8" cy="89.8" r="1.12"/><circle cx="146.5" cy="90.1" r="1.12"/><circle cx="169.2" cy="77.2" r="1.12"/><circle cx="169.1" cy="80.6" r="1.12"/><circle cx="145.3" cy="82.5" r="1.12"/><circle cx="144.6" cy="87.5" r="1.12"/><circle cx="195.8" cy="92.6" r="1.12"/><circle cx="154.7" cy="78.6" r="1.12"/><circle cx="149.5" cy="71.8" r="1.12"/><circle cx="127.9" cy="80.9" r="1.12"/><circle cx="146.1" cy="77.4" r="1.12"/><circle cx="199.8" cy="76.4" r="1.12"/><circle cx="199.5" cy="80.2" r="1.12"/><circle cx="192.3" cy="73.9" r="1.12"/><circle cx="186.3" cy="64.5" r="1.12"/><circle cx="155.4" cy="90.6" r="1.12"/><circle cx="162.3" cy="84.8" r="1.12"/><circle cx="143.3" cy="84.3" r="1.12"/><circle cx="165.9" cy="89.6" r="1.12"/><circle cx="198.6" cy="86.7" r="1.12"/><circle cx="169.3" cy="64.4" r="1.12"/><circle cx="134.5" cy="72.7" r="1.12"/><circle cx="201.2" cy="66.5" r="1.12"/><circle cx="132.3" cy="72.7" r="1.12"/><circle cx="114.6" cy="84.2" r="1.12"/><circle cx="114.4" cy="83.3" r="1.12"/><circle cx="192.3" cy="61.4" r="1.12"/><circle cx="150.7" cy="55.4" r="1.12"/><circle cx="176.5" cy="78.6" r="1.12"/><circle cx="151.9" cy="92.0" r="1.12"/><circle cx="170.9" cy="86.3" r="1.12"/><circle cx="158.5" cy="82.4" r="1.12"/><circle cx="160.8" cy="70.1" r="1.12"/><circle cx="159.6" cy="55.1" r="1.12"/><circle cx="146.6" cy="55.5" r="1.12"/><circle cx="160.0" cy="68.3" r="1.12"/><circle cx="164.2" cy="74.0" r="1.12"/><circle cx="119.2" cy="78.6" r="1.12"/><circle cx="175.5" cy="85.6" r="1.12"/><circle cx="155.8" cy="74.9" r="1.12"/><circle cx="132.7" cy="66.6" r="1.12"/><circle cx="163.9" cy="74.4" r="1.12"/><circle cx="108.4" cy="66.2" r="1.12"/><circle cx="131.1" cy="91.6" r="1.12"/><circle cx="163.1" cy="90.0" r="1.12"/><circle cx="151.6" cy="66.1" r="1.12"/><circle cx="133.4" cy="59.9" r="1.12"/><circle cx="140.3" cy="76.5" r="1.12"/><circle cx="118.2" cy="87.7" r="1.12"/><circle cx="164.3" cy="72.7" r="1.12"/><circle cx="131.7" cy="81.4" r="1.12"/><circle cx="167.2" cy="78.6" r="1.12"/><circle cx="169.3" cy="75.5" r="1.12"/><circle cx="139.4" cy="92.7" r="1.12"/><circle cx="155.5" cy="73.4" r="1.12"/><circle cx="123.7" cy="84.7" r="1.12"/><circle cx="176.1" cy="85.1" r="1.12"/><circle cx="187.9" cy="70.3" r="1.12"/><circle cx="127.2" cy="62.6" r="1.12"/><circle cx="167.5" cy="74.5" r="1.12"/><circle cx="138.6" cy="77.3" r="1.12"/><circle cx="164.2" cy="80.4" r="1.12"/><circle cx="158.7" cy="69.4" r="1.12"/><circle cx="142.8" cy="74.2" r="1.12"/><circle cx="123.3" cy="70.3" r="1.12"/><circle cx="140.7" cy="72.6" r="1.12"/><circle cx="136.0" cy="84.4" r="1.12"/><circle cx="128.2" cy="87.4" r="1.12"/><circle cx="143.3" cy="82.3" r="1.12"/><circle cx="135.5" cy="92.4" r="1.12"/><circle cx="147.3" cy="90.8" r="1.12"/><circle cx="164.0" cy="86.4" r="1.12"/><circle cx="106.6" cy="82.6" r="1.12"/><circle cx="139.4" cy="77.9" r="1.12"/><circle cx="121.0" cy="79.1" r="1.12"/><circle cx="151.2" cy="86.5" r="1.12"/><circle cx="181.5" cy="84.4" r="1.12"/><circle cx="180.8" cy="64.3" r="1.12"/><circle cx="115.4" cy="69.1" r="1.12"/><circle cx="168.4" cy="83.5" r="1.12"/><circle cx="161.0" cy="83.6" r="1.12"/><circle cx="129.5" cy="74.5" r="1.12"/><circle cx="145.6" cy="73.7" r="1.12"/><circle cx="160.2" cy="54.3" r="1.12"/><circle cx="127.8" cy="70.9" r="1.12"/><circle cx="154.9" cy="85.3" r="1.12"/><circle cx="163.8" cy="84.7" r="1.12"/><circle cx="145.3" cy="91.1" r="1.12"/><circle cx="161.5" cy="63.3" r="1.12"/><circle cx="159.2" cy="56.2" r="1.12"/><circle cx="200.6" cy="59.4" r="1.12"/><circle cx="183.1" cy="90.5" r="1.12"/><circle cx="161.3" cy="90.3" r="1.12"/><circle cx="140.9" cy="91.8" r="1.12"/><circle cx="143.0" cy="60.9" r="1.12"/><circle cx="170.7" cy="84.3" r="1.12"/><circle cx="113.0" cy="92.0" r="1.12"/><circle cx="148.3" cy="71.8" r="1.12"/><circle cx="131.4" cy="48.9" r="1.12"/><circle cx="171.5" cy="91.8" r="1.12"/><circle cx="157.4" cy="90.2" r="1.12"/><circle cx="192.1" cy="90.5" r="1.12"/><circle cx="162.1" cy="85.8" r="1.12"/><circle cx="143.9" cy="63.6" r="1.12"/><circle cx="181.7" cy="59.4" r="1.12"/><circle cx="149.9" cy="92.5" r="1.12"/><circle cx="137.4" cy="74.1" r="1.12"/><circle cx="125.3" cy="82.0" r="1.12"/><circle cx="183.9" cy="65.4" r="1.12"/><circle cx="136.0" cy="71.7" r="1.12"/><circle cx="141.3" cy="78.2" r="1.12"/><circle cx="127.0" cy="70.4" r="1.12"/><circle cx="196.9" cy="81.4" r="1.12"/><circle cx="140.2" cy="86.4" r="1.12"/><circle cx="181.8" cy="82.4" r="1.12"/><circle cx="115.9" cy="79.9" r="1.12"/><circle cx="186.1" cy="56.4" r="1.12"/><circle cx="151.8" cy="79.5" r="1.12"/><circle cx="146.1" cy="56.0" r="1.12"/><circle cx="179.5" cy="71.8" r="1.12"/><circle cx="183.1" cy="59.5" r="1.12"/><circle cx="128.2" cy="87.4" r="1.12"/><circle cx="140.1" cy="77.7" r="1.12"/><circle cx="158.3" cy="70.0" r="1.12"/><circle cx="172.8" cy="76.6" r="1.12"/><circle cx="113.1" cy="57.2" r="1.12"/><circle cx="169.8" cy="78.2" r="1.12"/><circle cx="114.3" cy="79.0" r="1.12"/><circle cx="149.9" cy="71.9" r="1.12"/><circle cx="123.7" cy="75.7" r="1.12"/><circle cx="110.3" cy="88.4" r="1.12"/><circle cx="166.3" cy="60.0" r="1.12"/><circle cx="144.2" cy="83.1" r="1.12"/><circle cx="195.4" cy="80.0" r="1.12"/><circle cx="151.0" cy="70.0" r="1.12"/><circle cx="136.1" cy="80.0" r="1.12"/><circle cx="161.6" cy="92.1" r="1.12"/><circle cx="197.4" cy="87.5" r="1.12"/><circle cx="132.9" cy="62.8" r="1.12"/><circle cx="180.5" cy="91.1" r="1.12"/><circle cx="141.1" cy="56.3" r="1.12"/><circle cx="134.0" cy="75.2" r="1.12"/><circle cx="139.2" cy="67.2" r="1.12"/><circle cx="162.7" cy="88.3" r="1.12"/><circle cx="172.4" cy="80.2" r="1.12"/><circle cx="191.3" cy="76.6" r="1.12"/><circle cx="181.2" cy="73.7" r="1.12"/><circle cx="174.5" cy="89.6" r="1.12"/><circle cx="163.8" cy="74.1" r="1.12"/><circle cx="157.7" cy="71.2" r="1.12"/><circle cx="178.7" cy="90.4" r="1.12"/><circle cx="144.8" cy="78.3" r="1.12"/><circle cx="145.7" cy="89.1" r="1.12"/><circle cx="157.5" cy="34.5" r="1.12"/><circle cx="173.1" cy="78.0" r="1.12"/><circle cx="137.8" cy="79.1" r="1.12"/><circle cx="150.6" cy="89.3" r="1.12"/><circle cx="133.7" cy="61.4" r="1.12"/><circle cx="144.9" cy="71.9" r="1.12"/><circle cx="157.9" cy="87.6" r="1.12"/><circle cx="162.6" cy="81.3" r="1.12"/><circle cx="164.7" cy="89.9" r="1.12"/><circle cx="113.6" cy="79.1" r="1.12"/><circle cx="172.9" cy="87.1" r="1.12"/><circle cx="153.5" cy="77.0" r="1.12"/><circle cx="144.4" cy="56.8" r="1.12"/><circle cx="198.9" cy="92.0" r="1.12"/><circle cx="188.4" cy="61.9" r="1.12"/><circle cx="112.5" cy="83.6" r="1.12"/><circle cx="137.5" cy="82.1" r="1.12"/><circle cx="162.5" cy="33.7" r="1.12"/><circle cx="142.6" cy="92.1" r="1.12"/><circle cx="164.6" cy="92.4" r="1.12"/><circle cx="180.0" cy="58.2" r="1.12"/><circle cx="128.8" cy="89.9" r="1.12"/><circle cx="151.9" cy="86.1" r="1.12"/><circle cx="122.0" cy="58.6" r="1.12"/><circle cx="170.5" cy="89.3" r="1.12"/><circle cx="159.8" cy="46.6" r="1.12"/><circle cx="149.3" cy="78.3" r="1.12"/><circle cx="124.8" cy="75.1" r="1.12"/><circle cx="174.5" cy="82.4" r="1.12"/><circle cx="157.6" cy="83.0" r="1.12"/><circle cx="143.9" cy="91.7" r="1.12"/><circle cx="159.1" cy="82.2" r="1.12"/><circle cx="156.5" cy="90.3" r="1.12"/><circle cx="154.9" cy="80.4" r="1.12"/><circle cx="170.2" cy="84.7" r="1.12"/><circle cx="191.1" cy="62.5" r="1.12"/><circle cx="174.5" cy="76.6" r="1.12"/><circle cx="189.1" cy="78.0" r="1.12"/><circle cx="130.4" cy="76.0" r="1.12"/><circle cx="164.4" cy="83.2" r="1.12"/><circle cx="134.1" cy="85.5" r="1.12"/><circle cx="148.7" cy="91.9" r="1.12"/><circle cx="166.0" cy="87.5" r="1.12"/><circle cx="129.0" cy="68.7" r="1.12"/><circle cx="195.7" cy="91.0" r="1.12"/><circle cx="182.2" cy="84.4" r="1.12"/><circle cx="173.6" cy="83.6" r="1.12"/><circle cx="140.1" cy="81.8" r="1.12"/><circle cx="181.9" cy="75.5" r="1.12"/><circle cx="201.0" cy="54.0" r="1.12"/><circle cx="175.6" cy="86.4" r="1.12"/><circle cx="144.0" cy="77.1" r="1.12"/><circle cx="160.8" cy="92.5" r="1.12"/><circle cx="173.9" cy="53.4" r="1.12"/><circle cx="157.5" cy="79.8" r="1.12"/><circle cx="169.3" cy="87.7" r="1.12"/><circle cx="153.2" cy="90.7" r="1.12"/><circle cx="138.7" cy="89.6" r="1.12"/><circle cx="157.5" cy="86.8" r="1.12"/><circle cx="138.0" cy="92.3" r="1.12"/><circle cx="159.2" cy="81.2" r="1.12"/><circle cx="133.1" cy="84.9" r="1.12"/><circle cx="181.3" cy="81.4" r="1.12"/><circle cx="149.4" cy="83.4" r="1.12"/><circle cx="152.5" cy="78.8" r="1.12"/><circle cx="194.7" cy="90.0" r="1.12"/><circle cx="143.0" cy="85.7" r="1.12"/><circle cx="162.9" cy="75.3" r="1.12"/><circle cx="140.8" cy="91.1" r="1.12"/><circle cx="173.9" cy="69.7" r="1.12"/><circle cx="134.1" cy="83.3" r="1.12"/><circle cx="129.3" cy="91.0" r="1.12"/><circle cx="166.4" cy="90.9" r="1.12"/><circle cx="134.1" cy="91.9" r="1.12"/><circle cx="150.3" cy="86.5" r="1.12"/><circle cx="138.4" cy="71.7" r="1.12"/><circle cx="118.7" cy="89.6" r="1.12"/><circle cx="158.3" cy="74.2" r="1.12"/><circle cx="143.8" cy="82.4" r="1.12"/><circle cx="144.8" cy="78.6" r="1.12"/><circle cx="199.0" cy="85.2" r="1.12"/><circle cx="168.5" cy="74.9" r="1.12"/><circle cx="181.0" cy="69.3" r="1.12"/><circle cx="158.9" cy="70.8" r="1.12"/><circle cx="167.6" cy="70.5" r="1.12"/><circle cx="183.8" cy="77.1" r="1.12"/><circle cx="115.0" cy="79.7" r="1.12"/><circle cx="191.6" cy="69.0" r="1.12"/><circle cx="184.8" cy="56.1" r="1.12"/><circle cx="176.1" cy="71.1" r="1.12"/><circle cx="150.3" cy="69.0" r="1.12"/><circle cx="155.7" cy="89.2" r="1.12"/><circle cx="157.0" cy="79.4" r="1.12"/><circle cx="154.7" cy="89.3" r="1.12"/><circle cx="168.1" cy="93.0" r="1.12"/><circle cx="201.5" cy="84.4" r="1.12"/><circle cx="160.1" cy="89.0" r="1.12"/><circle cx="143.4" cy="66.7" r="1.12"/><circle cx="161.6" cy="71.9" r="1.12"/><circle cx="144.9" cy="90.4" r="1.12"/><circle cx="147.6" cy="71.8" r="1.12"/><circle cx="130.8" cy="83.4" r="1.12"/><circle cx="161.5" cy="70.0" r="1.12"/><circle cx="159.2" cy="91.2" r="1.12"/><circle cx="169.9" cy="84.3" r="1.12"/><circle cx="165.3" cy="60.4" r="1.12"/><circle cx="132.6" cy="77.7" r="1.12"/><circle cx="182.6" cy="92.8" r="1.12"/><circle cx="144.0" cy="71.8" r="1.12"/><circle cx="108.9" cy="77.4" r="1.12"/><circle cx="173.9" cy="80.3" r="1.12"/><circle cx="133.8" cy="56.0" r="1.12"/><circle cx="192.3" cy="90.1" r="1.12"/><circle cx="137.0" cy="92.0" r="1.12"/><circle cx="179.3" cy="42.2" r="1.12"/><circle cx="184.3" cy="78.6" r="1.12"/><circle cx="109.1" cy="78.0" r="1.12"/><circle cx="116.2" cy="70.7" r="1.12"/><circle cx="167.5" cy="48.8" r="1.12"/><circle cx="143.7" cy="93.0" r="1.12"/><circle cx="182.8" cy="80.5" r="1.12"/><circle cx="141.5" cy="85.8" r="1.12"/><circle cx="156.4" cy="71.8" r="1.12"/><circle cx="169.5" cy="82.4" r="1.12"/><circle cx="159.8" cy="59.7" r="1.12"/><circle cx="150.4" cy="67.4" r="1.12"/><circle cx="145.2" cy="78.2" r="1.12"/><circle cx="112.6" cy="89.2" r="1.12"/><circle cx="154.0" cy="83.4" r="1.12"/><circle cx="143.7" cy="86.3" r="1.12"/><circle cx="141.2" cy="50.0" r="1.12"/><circle cx="144.1" cy="82.3" r="1.12"/><circle cx="145.8" cy="72.3" r="1.12"/><circle cx="154.9" cy="77.7" r="1.12"/><circle cx="152.2" cy="83.4" r="1.12"/><circle cx="190.1" cy="73.9" r="1.12"/><circle cx="179.8" cy="70.4" r="1.12"/><circle cx="150.4" cy="90.6" r="1.12"/><circle cx="184.3" cy="82.2" r="1.12"/><circle cx="155.3" cy="85.7" r="1.12"/><circle cx="166.9" cy="87.7" r="1.12"/><circle cx="181.3" cy="89.6" r="1.12"/><circle cx="175.2" cy="72.1" r="1.12"/><circle cx="173.6" cy="78.7" r="1.12"/><circle cx="130.8" cy="67.3" r="1.12"/><circle cx="143.5" cy="83.8" r="1.12"/><circle cx="193.4" cy="69.1" r="1.12"/><circle cx="165.3" cy="76.3" r="1.12"/><circle cx="140.9" cy="87.7" r="1.12"/><circle cx="174.4" cy="88.9" r="1.12"/><circle cx="185.9" cy="73.7" r="1.12"/><circle cx="179.1" cy="74.8" r="1.12"/><circle cx="159.7" cy="83.7" r="1.12"/><circle cx="144.8" cy="71.7" r="1.12"/><circle cx="148.6" cy="80.5" r="1.12"/><circle cx="146.7" cy="60.7" r="1.12"/><circle cx="162.9" cy="87.0" r="1.12"/><circle cx="175.6" cy="77.8" r="1.12"/><circle cx="179.7" cy="85.7" r="1.12"/><circle cx="122.4" cy="81.3" r="1.12"/><circle cx="171.1" cy="84.2" r="1.12"/><circle cx="195.4" cy="85.0" r="1.12"/><circle cx="170.2" cy="78.4" r="1.12"/><circle cx="136.9" cy="69.5" r="1.12"/><circle cx="124.0" cy="67.6" r="1.12"/><circle cx="170.4" cy="71.7" r="1.12"/><circle cx="155.4" cy="60.8" r="1.12"/><circle cx="159.7" cy="70.8" r="1.12"/><circle cx="166.2" cy="63.0" r="1.12"/><circle cx="168.7" cy="87.9" r="1.12"/><circle cx="159.6" cy="91.8" r="1.12"/><circle cx="161.2" cy="67.1" r="1.12"/><circle cx="158.9" cy="74.7" r="1.12"/><circle cx="147.4" cy="84.7" r="1.12"/><circle cx="111.4" cy="78.1" r="1.12"/><circle cx="143.7" cy="72.3" r="1.12"/><circle cx="165.8" cy="90.3" r="1.12"/><circle cx="138.8" cy="73.8" r="1.12"/><circle cx="177.1" cy="80.1" r="1.12"/><circle cx="171.9" cy="84.3" r="1.12"/><circle cx="113.5" cy="71.8" r="1.12"/><circle cx="158.2" cy="86.4" r="1.12"/><circle cx="176.5" cy="77.3" r="1.12"/><circle cx="182.5" cy="85.8" r="1.12"/><circle cx="153.2" cy="77.9" r="1.12"/><circle cx="148.1" cy="72.3" r="1.12"/><circle cx="120.7" cy="80.3" r="1.12"/><circle cx="154.0" cy="54.5" r="1.12"/><circle cx="181.2" cy="87.0" r="1.12"/><circle cx="158.6" cy="71.9" r="1.12"/><circle cx="147.2" cy="63.4" r="1.12"/><circle cx="138.6" cy="24.9" r="1.12"/><circle cx="137.9" cy="69.5" r="1.12"/><circle cx="155.0" cy="85.4" r="1.12"/><circle cx="136.6" cy="76.6" r="1.12"/><circle cx="182.8" cy="64.8" r="1.12"/><circle cx="145.3" cy="71.6" r="1.12"/><circle cx="176.6" cy="82.0" r="1.12"/><circle cx="133.6" cy="78.4" r="1.12"/><circle cx="114.8" cy="74.9" r="1.12"/><circle cx="184.6" cy="88.1" r="1.12"/><circle cx="127.5" cy="83.0" r="1.12"/><circle cx="179.7" cy="92.7" r="1.12"/><circle cx="115.6" cy="86.3" r="1.12"/><circle cx="168.0" cy="78.0" r="1.12"/><circle cx="201.7" cy="88.1" r="1.12"/><circle cx="146.8" cy="92.3" r="1.12"/><circle cx="186.5" cy="74.6" r="1.12"/><circle cx="188.8" cy="39.1" r="1.12"/><circle cx="176.9" cy="79.8" r="1.12"/><circle cx="168.9" cy="79.6" r="1.12"/><circle cx="130.3" cy="91.4" r="1.12"/><circle cx="163.8" cy="81.6" r="1.12"/><circle cx="136.2" cy="73.6" r="1.12"/><circle cx="112.8" cy="43.2" r="1.12"/><circle cx="153.6" cy="88.7" r="1.12"/><circle cx="122.9" cy="74.8" r="1.12"/><circle cx="145.5" cy="64.9" r="1.12"/><circle cx="178.2" cy="92.7" r="1.12"/><circle cx="175.2" cy="71.3" r="1.12"/><circle cx="150.4" cy="81.8" r="1.12"/><circle cx="128.2" cy="92.8" r="1.12"/><circle cx="154.7" cy="64.9" r="1.12"/><circle cx="142.3" cy="75.1" r="1.12"/><circle cx="147.2" cy="84.8" r="1.12"/><circle cx="167.6" cy="92.5" r="1.12"/><circle cx="147.0" cy="83.4" r="1.12"/><circle cx="166.6" cy="56.9" r="1.12"/><circle cx="151.9" cy="66.1" r="1.12"/><circle cx="130.3" cy="90.2" r="1.12"/><circle cx="159.5" cy="90.9" r="1.12"/><circle cx="137.5" cy="89.1" r="1.12"/><circle cx="136.6" cy="85.6" r="1.12"/><circle cx="174.3" cy="58.6" r="1.12"/><circle cx="187.9" cy="77.3" r="1.12"/><circle cx="147.3" cy="74.7" r="1.12"/><circle cx="165.3" cy="54.2" r="1.12"/><circle cx="174.8" cy="49.9" r="1.12"/><circle cx="128.5" cy="67.7" r="1.12"/><circle cx="170.2" cy="93.1" r="1.12"/><circle cx="165.2" cy="58.1" r="1.12"/><circle cx="138.6" cy="76.4" r="1.12"/><circle cx="166.2" cy="77.8" r="1.12"/><circle cx="110.3" cy="63.1" r="1.12"/><circle cx="159.7" cy="92.2" r="1.12"/><circle cx="181.5" cy="90.4" r="1.12"/><circle cx="141.8" cy="78.5" r="1.12"/><circle cx="116.5" cy="89.7" r="1.12"/><circle cx="158.7" cy="81.0" r="1.12"/><circle cx="148.6" cy="83.3" r="1.12"/><circle cx="177.3" cy="90.2" r="1.12"/><circle cx="147.3" cy="89.4" r="1.12"/><circle cx="135.4" cy="89.0" r="1.12"/><circle cx="151.0" cy="89.0" r="1.12"/><circle cx="189.6" cy="67.4" r="1.12"/><circle cx="147.6" cy="81.2" r="1.12"/><circle cx="165.1" cy="78.1" r="1.12"/><circle cx="158.6" cy="87.9" r="1.12"/><circle cx="147.1" cy="77.7" r="1.12"/><circle cx="178.6" cy="67.6" r="1.12"/><circle cx="173.7" cy="84.5" r="1.12"/><circle cx="164.4" cy="84.3" r="1.12"/><circle cx="116.1" cy="80.1" r="1.12"/><circle cx="162.8" cy="82.2" r="1.12"/><circle cx="135.4" cy="68.0" r="1.12"/><circle cx="115.6" cy="58.5" r="1.12"/><circle cx="173.2" cy="46.5" r="1.12"/><circle cx="141.2" cy="92.7" r="1.12"/><circle cx="146.2" cy="90.0" r="1.12"/><circle cx="153.2" cy="78.4" r="1.12"/><circle cx="183.4" cy="77.7" r="1.12"/><circle cx="146.2" cy="82.2" r="1.12"/><circle cx="145.5" cy="84.6" r="1.12"/><circle cx="166.5" cy="85.9" r="1.12"/><circle cx="128.8" cy="91.1" r="1.12"/><circle cx="152.9" cy="59.6" r="1.12"/><circle cx="132.3" cy="74.1" r="1.12"/><circle cx="139.6" cy="86.1" r="1.12"/><circle cx="150.4" cy="87.8" r="1.12"/><circle cx="178.4" cy="58.7" r="1.12"/><circle cx="143.1" cy="67.0" r="1.12"/><circle cx="181.5" cy="77.1" r="1.12"/><circle cx="140.2" cy="75.4" r="1.12"/><circle cx="155.6" cy="86.2" r="1.12"/><circle cx="151.8" cy="80.0" r="1.12"/><circle cx="184.4" cy="70.9" r="1.12"/><circle cx="153.3" cy="73.5" r="1.12"/><circle cx="192.3" cy="74.7" r="1.12"/><circle cx="192.8" cy="66.9" r="1.12"/><circle cx="170.9" cy="81.4" r="1.12"/><circle cx="193.0" cy="87.6" r="1.12"/><circle cx="146.8" cy="77.4" r="1.12"/><circle cx="128.7" cy="78.0" r="1.12"/><circle cx="152.5" cy="79.0" r="1.12"/><circle cx="170.6" cy="78.1" r="1.12"/><circle cx="147.8" cy="84.1" r="1.12"/><circle cx="197.1" cy="64.4" r="1.12"/><circle cx="154.4" cy="62.2" r="1.12"/><circle cx="164.6" cy="91.7" r="1.12"/><circle cx="166.3" cy="82.0" r="1.12"/><circle cx="150.6" cy="74.9" r="1.12"/><circle cx="177.8" cy="89.0" r="1.12"/><circle cx="148.5" cy="83.7" r="1.12"/><circle cx="174.4" cy="71.5" r="1.12"/><circle cx="154.4" cy="78.4" r="1.12"/><circle cx="125.3" cy="81.2" r="1.12"/><circle cx="157.5" cy="92.4" r="1.12"/><circle cx="178.7" cy="63.7" r="1.12"/><circle cx="156.5" cy="87.4" r="1.12"/><circle cx="177.7" cy="71.8" r="1.12"/><circle cx="175.0" cy="88.8" r="1.12"/><circle cx="190.0" cy="70.7" r="1.12"/><circle cx="171.1" cy="50.9" r="1.12"/><circle cx="158.1" cy="84.8" r="1.12"/><circle cx="150.1" cy="74.6" r="1.12"/><circle cx="157.4" cy="56.2" r="1.12"/><circle cx="156.1" cy="84.7" r="1.12"/><circle cx="181.5" cy="86.3" r="1.12"/><circle cx="190.8" cy="80.3" r="1.12"/><circle cx="154.9" cy="56.2" r="1.12"/><circle cx="140.2" cy="77.5" r="1.12"/><circle cx="192.5" cy="82.9" r="1.12"/><circle cx="132.7" cy="82.9" r="1.12"/><circle cx="169.2" cy="88.6" r="1.12"/><circle cx="158.6" cy="87.2" r="1.12"/><circle cx="145.6" cy="59.1" r="1.12"/><circle cx="156.0" cy="68.5" r="1.12"/><circle cx="191.0" cy="87.8" r="1.12"/><circle cx="140.9" cy="89.0" r="1.12"/><circle cx="178.7" cy="86.4" r="1.12"/><circle cx="144.7" cy="86.2" r="1.12"/><circle cx="153.4" cy="83.2" r="1.12"/><circle cx="148.7" cy="64.9" r="1.12"/><circle cx="159.4" cy="78.5" r="1.12"/><circle cx="132.7" cy="91.0" r="1.12"/><circle cx="178.3" cy="85.9" r="1.12"/><circle cx="143.2" cy="54.2" r="1.12"/><circle cx="177.2" cy="73.4" r="1.12"/><circle cx="136.4" cy="61.8" r="1.12"/><circle cx="120.1" cy="83.2" r="1.12"/><circle cx="175.1" cy="67.6" r="1.12"/><circle cx="136.8" cy="80.4" r="1.12"/><circle cx="162.6" cy="56.2" r="1.12"/><circle cx="172.8" cy="82.4" r="1.12"/><circle cx="147.9" cy="82.8" r="1.12"/><circle cx="175.9" cy="87.2" r="1.12"/><circle cx="170.1" cy="64.2" r="1.12"/><circle cx="147.2" cy="90.0" r="1.12"/><circle cx="146.2" cy="73.4" r="1.12"/><circle cx="148.8" cy="84.1" r="1.12"/><circle cx="161.2" cy="91.8" r="1.12"/><circle cx="197.3" cy="91.5" r="1.12"/><circle cx="190.4" cy="77.4" r="1.12"/><circle cx="188.2" cy="90.0" r="1.12"/><circle cx="179.3" cy="78.7" r="1.12"/><circle cx="144.1" cy="88.0" r="1.12"/><circle cx="155.2" cy="92.4" r="1.12"/><circle cx="187.7" cy="79.4" r="1.12"/><circle cx="119.8" cy="60.0" r="1.12"/><circle cx="147.8" cy="80.9" r="1.12"/><circle cx="158.4" cy="82.4" r="1.12"/><circle cx="198.1" cy="87.2" r="1.12"/><circle cx="168.6" cy="79.2" r="1.12"/><circle cx="171.3" cy="67.3" r="1.12"/><circle cx="188.6" cy="56.1" r="1.12"/><circle cx="178.3" cy="63.1" r="1.12"/><circle cx="176.9" cy="64.8" r="1.12"/><circle cx="151.1" cy="82.0" r="1.12"/><circle cx="167.5" cy="77.7" r="1.12"/><circle cx="137.9" cy="74.8" r="1.12"/><circle cx="127.8" cy="66.0" r="1.12"/><circle cx="158.6" cy="87.4" r="1.12"/><circle cx="127.9" cy="81.8" r="1.12"/><circle cx="173.7" cy="65.3" r="1.12"/><circle cx="126.3" cy="70.0" r="1.12"/><circle cx="159.1" cy="84.0" r="1.12"/><circle cx="174.7" cy="86.1" r="1.12"/><circle cx="153.4" cy="88.6" r="1.12"/><circle cx="145.1" cy="44.4" r="1.12"/><circle cx="179.9" cy="88.4" r="1.12"/><circle cx="161.7" cy="81.2" r="1.12"/><circle cx="163.8" cy="92.8" r="1.12"/><circle cx="156.4" cy="72.2" r="1.12"/><circle cx="119.2" cy="88.3" r="1.12"/><circle cx="134.0" cy="87.1" r="1.12"/><circle cx="192.0" cy="72.6" r="1.12"/><circle cx="155.9" cy="81.9" r="1.12"/><circle cx="179.6" cy="74.6" r="1.12"/><circle cx="120.1" cy="83.4" r="1.12"/><circle cx="150.1" cy="87.1" r="1.12"/><circle cx="182.5" cy="76.3" r="1.12"/><circle cx="149.7" cy="90.3" r="1.12"/><circle cx="167.5" cy="83.3" r="1.12"/><circle cx="181.5" cy="50.8" r="1.12"/><circle cx="148.9" cy="57.8" r="1.12"/><circle cx="110.4" cy="66.6" r="1.12"/><circle cx="150.3" cy="90.5" r="1.12"/><circle cx="150.4" cy="81.1" r="1.12"/><circle cx="129.2" cy="85.6" r="1.12"/><circle cx="187.4" cy="71.6" r="1.12"/><circle cx="150.2" cy="83.1" r="1.12"/><circle cx="142.2" cy="70.5" r="1.12"/><circle cx="198.9" cy="80.6" r="1.12"/><circle cx="160.8" cy="83.8" r="1.12"/><circle cx="135.0" cy="68.3" r="1.12"/><circle cx="175.8" cy="75.1" r="1.12"/><circle cx="180.5" cy="72.2" r="1.12"/><circle cx="172.6" cy="75.0" r="1.12"/><circle cx="148.7" cy="83.8" r="1.12"/><circle cx="167.9" cy="74.0" r="1.12"/><circle cx="139.2" cy="63.3" r="1.12"/><circle cx="188.5" cy="92.9" r="1.12"/><circle cx="168.6" cy="78.4" r="1.12"/><circle cx="154.7" cy="68.2" r="1.12"/><circle cx="160.1" cy="89.3" r="1.12"/><circle cx="188.5" cy="75.2" r="1.12"/><circle cx="176.5" cy="86.3" r="1.12"/><circle cx="153.0" cy="86.7" r="1.12"/><circle cx="163.1" cy="56.7" r="1.12"/><circle cx="175.5" cy="63.5" r="1.12"/><circle cx="146.5" cy="92.7" r="1.12"/><circle cx="146.5" cy="61.7" r="1.12"/><circle cx="155.9" cy="63.5" r="1.12"/><circle cx="184.6" cy="83.7" r="1.12"/><circle cx="167.2" cy="68.6" r="1.12"/><circle cx="150.6" cy="91.4" r="1.12"/><circle cx="145.5" cy="92.0" r="1.12"/><circle cx="150.1" cy="91.5" r="1.12"/><circle cx="180.8" cy="66.8" r="1.12"/><circle cx="161.1" cy="89.3" r="1.12"/><circle cx="177.5" cy="87.6" r="1.12"/><circle cx="134.2" cy="72.2" r="1.12"/><circle cx="137.0" cy="75.5" r="1.12"/><circle cx="136.3" cy="58.6" r="1.12"/><circle cx="134.5" cy="77.1" r="1.12"/><circle cx="192.0" cy="75.0" r="1.12"/><circle cx="191.7" cy="77.6" r="1.12"/><circle cx="118.2" cy="79.5" r="1.12"/><circle cx="174.0" cy="89.3" r="1.12"/><circle cx="156.9" cy="87.3" r="1.12"/><circle cx="149.5" cy="87.6" r="1.12"/><circle cx="117.7" cy="82.4" r="1.12"/><circle cx="198.8" cy="63.9" r="1.12"/><circle cx="149.9" cy="79.7" r="1.12"/><circle cx="167.1" cy="73.1" r="1.12"/><circle cx="174.5" cy="71.0" r="1.12"/><circle cx="161.8" cy="90.4" r="1.12"/><circle cx="190.6" cy="70.5" r="1.12"/><circle cx="170.0" cy="70.2" r="1.12"/><circle cx="149.2" cy="64.1" r="1.12"/><circle cx="148.5" cy="85.6" r="1.12"/><circle cx="178.9" cy="75.9" r="1.12"/><circle cx="142.2" cy="59.9" r="1.12"/><circle cx="228.2" cy="92.8" r="1.12"/><circle cx="148.5" cy="90.1" r="1.12"/><circle cx="169.4" cy="55.1" r="1.12"/><circle cx="208.7" cy="92.4" r="1.12"/><circle cx="127.4" cy="61.7" r="1.12"/><circle cx="192.8" cy="83.9" r="1.12"/><circle cx="166.0" cy="89.9" r="1.12"/><circle cx="214.6" cy="83.9" r="1.12"/><circle cx="218.3" cy="75.7" r="1.12"/><circle cx="113.4" cy="85.7" r="1.12"/><circle cx="131.9" cy="51.8" r="1.12"/><circle cx="180.9" cy="92.3" r="1.12"/><circle cx="125.7" cy="84.8" r="1.12"/><circle cx="165.0" cy="77.2" r="1.12"/><circle cx="154.4" cy="85.1" r="1.12"/><circle cx="104.2" cy="77.2" r="1.12"/><circle cx="147.3" cy="92.7" r="1.12"/><circle cx="163.9" cy="13.9" r="1.12"/><circle cx="109.4" cy="90.2" r="1.12"/><circle cx="191.7" cy="87.2" r="1.12"/><circle cx="139.4" cy="80.3" r="1.12"/><circle cx="137.9" cy="77.6" r="1.12"/><circle cx="172.9" cy="35.2" r="1.12"/><circle cx="234.0" cy="92.5" r="1.12"/><circle cx="177.2" cy="66.0" r="1.12"/><circle cx="218.2" cy="65.7" r="1.12"/><circle cx="186.7" cy="74.6" r="1.12"/><circle cx="151.2" cy="87.0" r="1.12"/><circle cx="208.0" cy="55.1" r="1.12"/><circle cx="226.9" cy="72.0" r="1.12"/><circle cx="143.4" cy="66.6" r="1.12"/><circle cx="200.7" cy="80.0" r="1.12"/><circle cx="187.0" cy="85.1" r="1.12"/><circle cx="175.9" cy="83.5" r="1.12"/><circle cx="111.4" cy="85.5" r="1.12"/><circle cx="145.9" cy="81.0" r="1.12"/><circle cx="151.7" cy="88.0" r="1.12"/><circle cx="134.3" cy="85.2" r="1.12"/><circle cx="121.2" cy="93.0" r="1.12"/><circle cx="218.0" cy="82.0" r="1.12"/><circle cx="162.0" cy="77.6" r="1.12"/><circle cx="143.2" cy="89.7" r="1.12"/><circle cx="112.1" cy="86.5" r="1.12"/><circle cx="144.0" cy="69.2" r="1.12"/><circle cx="175.9" cy="42.0" r="1.12"/><circle cx="148.2" cy="46.3" r="1.12"/><circle cx="180.2" cy="91.6" r="1.12"/><circle cx="126.9" cy="77.1" r="1.12"/><circle cx="233.3" cy="85.0" r="1.12"/><circle cx="205.3" cy="82.8" r="1.12"/><circle cx="217.7" cy="91.8" r="1.12"/><circle cx="167.2" cy="50.8" r="1.12"/><circle cx="139.7" cy="87.6" r="1.12"/><circle cx="106.4" cy="89.8" r="1.12"/><circle cx="138.7" cy="70.6" r="1.12"/><circle cx="132.1" cy="83.7" r="1.12"/><circle cx="129.8" cy="76.1" r="1.12"/><circle cx="217.1" cy="73.9" r="1.12"/><circle cx="129.3" cy="68.7" r="1.12"/><circle cx="230.1" cy="76.2" r="1.12"/><circle cx="113.8" cy="62.6" r="1.12"/><circle cx="218.6" cy="85.4" r="1.12"/><circle cx="121.4" cy="89.3" r="1.12"/><circle cx="174.1" cy="54.7" r="1.12"/><circle cx="187.6" cy="45.9" r="1.12"/><circle cx="131.3" cy="85.8" r="1.12"/><circle cx="202.0" cy="73.8" r="1.12"/><circle cx="156.7" cy="72.2" r="1.12"/><circle cx="147.8" cy="92.0" r="1.12"/><circle cx="157.9" cy="92.2" r="1.12"/><circle cx="185.8" cy="85.6" r="1.12"/><circle cx="168.5" cy="76.3" r="1.12"/><circle cx="137.2" cy="81.6" r="1.12"/><circle cx="105.2" cy="45.3" r="1.12"/><circle cx="177.6" cy="12.3" r="1.12"/><circle cx="110.8" cy="75.6" r="1.12"/><circle cx="198.7" cy="85.7" r="1.12"/><circle cx="115.7" cy="90.0" r="1.12"/><circle cx="122.2" cy="66.2" r="1.12"/><circle cx="115.2" cy="62.1" r="1.12"/><circle cx="159.1" cy="78.8" r="1.12"/><circle cx="180.8" cy="78.2" r="1.12"/><circle cx="189.9" cy="76.1" r="1.12"/><circle cx="146.9" cy="68.2" r="1.12"/><circle cx="137.3" cy="70.2" r="1.12"/><circle cx="203.8" cy="65.5" r="1.12"/><circle cx="144.1" cy="65.8" r="1.12"/><circle cx="232.0" cy="82.0" r="1.12"/><circle cx="140.0" cy="79.4" r="1.12"/><circle cx="227.2" cy="90.5" r="1.12"/><circle cx="104.6" cy="81.2" r="1.12"/><circle cx="189.6" cy="65.7" r="1.12"/><circle cx="151.1" cy="88.3" r="1.12"/><circle cx="203.0" cy="91.4" r="1.12"/><circle cx="107.1" cy="90.4" r="1.12"/><circle cx="111.3" cy="80.3" r="1.12"/><circle cx="176.5" cy="89.4" r="1.12"/><circle cx="227.1" cy="84.7" r="1.12"/><circle cx="123.1" cy="89.5" r="1.12"/><circle cx="200.5" cy="46.2" r="1.12"/><circle cx="124.7" cy="92.6" r="1.12"/><circle cx="205.8" cy="88.0" r="1.12"/><circle cx="232.7" cy="80.4" r="1.12"/><circle cx="187.1" cy="85.3" r="1.12"/><circle cx="208.7" cy="81.7" r="1.12"/><circle cx="146.0" cy="50.0" r="1.12"/><circle cx="117.6" cy="68.7" r="1.12"/><circle cx="112.0" cy="74.0" r="1.12"/><circle cx="156.3" cy="56.3" r="1.12"/><circle cx="111.3" cy="77.8" r="1.12"/><circle cx="157.3" cy="46.8" r="1.12"/><circle cx="227.7" cy="74.9" r="1.12"/><circle cx="132.9" cy="87.7" r="1.12"/><circle cx="137.9" cy="82.6" r="1.12"/><circle cx="133.8" cy="88.9" r="1.12"/><circle cx="203.3" cy="74.1" r="1.12"/><circle cx="142.7" cy="88.6" r="1.12"/><circle cx="178.3" cy="90.0" r="1.12"/><circle cx="217.0" cy="55.6" r="1.12"/><circle cx="138.6" cy="67.4" r="1.12"/><circle cx="211.7" cy="87.0" r="1.12"/><circle cx="147.0" cy="80.9" r="1.12"/><circle cx="220.6" cy="89.8" r="1.12"/><circle cx="193.2" cy="76.3" r="1.12"/><circle cx="163.0" cy="77.2" r="1.12"/><circle cx="219.6" cy="88.8" r="1.12"/><circle cx="219.7" cy="84.9" r="1.12"/><circle cx="206.0" cy="56.4" r="1.12"/><circle cx="127.4" cy="56.4" r="1.12"/><circle cx="234.3" cy="86.6" r="1.12"/><circle cx="106.6" cy="90.9" r="1.12"/><circle cx="231.6" cy="92.9" r="1.12"/><circle cx="223.3" cy="90.1" r="1.12"/><circle cx="200.2" cy="91.2" r="1.12"/><circle cx="125.6" cy="71.9" r="1.12"/><circle cx="115.3" cy="85.5" r="1.12"/><circle cx="224.3" cy="69.9" r="1.12"/><circle cx="219.4" cy="21.4" r="1.12"/><circle cx="107.7" cy="88.2" r="1.12"/><circle cx="207.6" cy="71.6" r="1.12"/><circle cx="108.4" cy="80.2" r="1.12"/><circle cx="133.9" cy="82.7" r="1.12"/><circle cx="117.2" cy="92.7" r="1.12"/><circle cx="233.8" cy="86.1" r="1.12"/><circle cx="219.0" cy="90.7" r="1.12"/><circle cx="167.5" cy="90.4" r="1.12"/><circle cx="159.8" cy="89.5" r="1.12"/><circle cx="193.6" cy="90.1" r="1.12"/><circle cx="200.5" cy="80.3" r="1.12"/><circle cx="118.2" cy="85.1" r="1.12"/><circle cx="168.7" cy="46.9" r="1.12"/><circle cx="149.4" cy="88.6" r="1.12"/><circle cx="230.7" cy="53.6" r="1.12"/><circle cx="199.6" cy="87.2" r="1.12"/><circle cx="126.7" cy="87.4" r="1.12"/><circle cx="112.5" cy="92.3" r="1.12"/><circle cx="170.3" cy="83.4" r="1.12"/><circle cx="176.6" cy="84.8" r="1.12"/><circle cx="104.8" cy="71.6" r="1.12"/><circle cx="189.3" cy="78.6" r="1.12"/><circle cx="175.6" cy="71.5" r="1.12"/><circle cx="232.7" cy="54.9" r="1.12"/><circle cx="197.8" cy="83.7" r="1.12"/><circle cx="145.3" cy="83.1" r="1.12"/><circle cx="231.4" cy="84.1" r="1.12"/><circle cx="154.1" cy="83.4" r="1.12"/><circle cx="122.2" cy="93.0" r="1.12"/><circle cx="183.4" cy="45.1" r="1.12"/><circle cx="136.9" cy="75.7" r="1.12"/><circle cx="153.0" cy="88.0" r="1.12"/><circle cx="129.5" cy="90.8" r="1.12"/><circle cx="214.3" cy="64.9" r="1.12"/><circle cx="222.9" cy="92.2" r="1.12"/><circle cx="194.7" cy="85.9" r="1.12"/><circle cx="188.4" cy="78.4" r="1.12"/><circle cx="144.9" cy="27.5" r="1.12"/><circle cx="103.5" cy="67.8" r="1.12"/><circle cx="215.7" cy="80.0" r="1.12"/><circle cx="181.3" cy="88.2" r="1.12"/><circle cx="186.2" cy="68.0" r="1.12"/><circle cx="153.3" cy="70.2" r="1.12"/><circle cx="155.2" cy="79.3" r="1.12"/><circle cx="184.0" cy="72.3" r="1.12"/><circle cx="145.8" cy="74.8" r="1.12"/><circle cx="174.9" cy="88.4" r="1.12"/><circle cx="184.0" cy="87.4" r="1.12"/><circle cx="223.0" cy="81.3" r="1.12"/><circle cx="198.3" cy="79.5" r="1.12"/><circle cx="166.1" cy="88.5" r="1.12"/><circle cx="122.1" cy="44.8" r="1.12"/><circle cx="173.0" cy="79.4" r="1.12"/><circle cx="172.8" cy="62.2" r="1.12"/><circle cx="134.8" cy="89.6" r="1.12"/><circle cx="211.5" cy="81.7" r="1.12"/><circle cx="187.7" cy="60.7" r="1.12"/><circle cx="221.0" cy="55.8" r="1.12"/><circle cx="109.1" cy="84.3" r="1.12"/><circle cx="212.9" cy="61.7" r="1.12"/><circle cx="119.6" cy="90.0" r="1.12"/><circle cx="136.5" cy="91.1" r="1.12"/><circle cx="162.4" cy="6.7" r="1.12"/><circle cx="181.9" cy="12.0" r="1.12"/><circle cx="163.5" cy="17.3" r="1.12"/><circle cx="170.0" cy="19.4" r="1.12"/><circle cx="189.5" cy="15.5" r="1.12"/><circle cx="163.5" cy="24.7" r="1.12"/><circle cx="188.6" cy="25.6" r="1.12"/><circle cx="184.7" cy="26.9" r="1.12"/><circle cx="188.6" cy="30.9" r="1.12"/><circle cx="162.0" cy="31.8" r="1.12"/><circle cx="198.3" cy="32.7" r="1.12"/><circle cx="197.4" cy="36.2" r="1.12"/><circle cx="196.0" cy="38.0" r="1.12"/><circle cx="190.3" cy="37.5" r="1.12"/><circle cx="168.3" cy="36.8" r="1.12"/><circle cx="173.6" cy="38.0" r="1.12"/><circle cx="202.7" cy="39.8" r="1.12"/><circle cx="214.2" cy="42.4" r="1.12"/><circle cx="227.4" cy="40.3" r="1.12"/><circle cx="227.8" cy="42.4" r="1.12"/><circle cx="232.4" cy="36.2" r="1.12"/><circle cx="238.0" cy="42.4" r="1.12"/><circle cx="198.3" cy="43.8" r="1.12"/><circle cx="209.8" cy="47.3" r="1.12"/><circle cx="224.8" cy="49.8" r="1.12"/><circle cx="176.2" cy="42.4" r="1.12"/><circle cx="122.0" cy="36.0" r="1.12"/><circle cx="137.0" cy="37.9" r="1.12"/><circle cx="127.0" cy="41.3" r="1.12"/><circle cx="128.4" cy="45.0" r="1.12"/><circle cx="135.5" cy="43.4" r="1.12"/><circle cx="138.3" cy="45.7" r="1.12"/><circle cx="123.7" cy="46.5" r="1.12"/><circle cx="117.4" cy="48.9" r="1.12"/><circle cx="163.9" cy="24.4" r="1.12"/><circle cx="167.8" cy="37.9" r="1.12"/></g>
<g fill="#7cc242"><circle cx="99.0" cy="44.0" r="1.1"/><circle cx="79.8" cy="62.0" r="1.1"/><circle cx="54.5" cy="75.7" r="1.1"/><circle cx="58.6" cy="89.6" r="1.1"/><circle cx="97.5" cy="50.0" r="1.1"/><circle cx="100.5" cy="57.0" r="1.1"/><circle cx="98.0" cy="62.5" r="1.1"/><circle cx="101.5" cy="64.0" r="1.1"/><circle cx="96.0" cy="68.0" r="1.1"/><circle cx="99.0" cy="72.0" r="1.1"/><circle cx="101.0" cy="75.0" r="1.1"/><circle cx="97.5" cy="79.0" r="1.1"/><circle cx="102.0" cy="70.0" r="1.1"/><circle cx="94.0" cy="71.0" r="1.1"/><circle cx="100.0" cy="84.0" r="1.1"/><circle cx="103.0" cy="88.0" r="1.1"/><circle cx="102.0" cy="92.0" r="1.1"/><circle cx="98.5" cy="74.0" r="1.1"/><circle cx="96.5" cy="63.0" r="1.1"/><circle cx="103.0" cy="59.0" r="1.1"/><circle cx="88.0" cy="75.0" r="1.1"/><circle cx="80.0" cy="83.0" r="1.1"/><circle cx="104.5" cy="52.0" r="1.1"/></g>
<g fill="#6a0a0a"><circle cx="98.5" cy="189.8" r="1.25"/><circle cx="101.7" cy="153.9" r="1.25"/><circle cx="81.2" cy="188.5" r="1.25"/><circle cx="77.6" cy="157.5" r="1.25"/><circle cx="93.0" cy="183.8" r="1.25"/><circle cx="96.3" cy="144.6" r="1.25"/><circle cx="94.8" cy="162.4" r="1.25"/><circle cx="93.6" cy="168.4" r="1.25"/><circle cx="94.7" cy="182.1" r="1.25"/><circle cx="96.5" cy="124.5" r="1.25"/><circle cx="86.8" cy="197.3" r="1.25"/><circle cx="84.9" cy="147.5" r="1.25"/><circle cx="94.4" cy="160.5" r="1.25"/><circle cx="88.4" cy="140.0" r="1.25"/><circle cx="87.4" cy="148.2" r="1.25"/><circle cx="92.6" cy="186.4" r="1.25"/><circle cx="96.0" cy="146.5" r="1.25"/><circle cx="80.3" cy="187.3" r="1.25"/><circle cx="103.2" cy="132.6" r="1.25"/><circle cx="100.8" cy="190.0" r="1.25"/><circle cx="77.7" cy="169.2" r="1.25"/><circle cx="89.3" cy="178.4" r="1.25"/><circle cx="99.6" cy="184.0" r="1.25"/><circle cx="101.5" cy="179.9" r="1.25"/><circle cx="82.9" cy="168.1" r="1.25"/><circle cx="95.4" cy="186.9" r="1.25"/><circle cx="92.0" cy="189.9" r="1.25"/><circle cx="76.9" cy="154.0" r="1.25"/><circle cx="99.1" cy="161.1" r="1.25"/><circle cx="92.9" cy="164.6" r="1.25"/><circle cx="86.9" cy="179.4" r="1.25"/><circle cx="85.9" cy="134.2" r="1.25"/><circle cx="99.4" cy="203.5" r="1.25"/><circle cx="67.9" cy="153.3" r="1.25"/><circle cx="100.7" cy="100.9" r="1.25"/><circle cx="96.6" cy="166.6" r="1.25"/><circle cx="101.8" cy="147.9" r="1.25"/><circle cx="89.0" cy="171.3" r="1.25"/><circle cx="96.9" cy="139.3" r="1.25"/><circle cx="94.7" cy="193.9" r="1.25"/><circle cx="103.9" cy="156.6" r="1.25"/><circle cx="88.0" cy="159.6" r="1.25"/><circle cx="87.5" cy="136.3" r="1.25"/><circle cx="103.5" cy="178.5" r="1.25"/><circle cx="92.4" cy="140.8" r="1.25"/><circle cx="90.2" cy="172.7" r="1.25"/><circle cx="97.4" cy="182.3" r="1.25"/><circle cx="74.5" cy="185.0" r="1.25"/><circle cx="90.3" cy="178.1" r="1.25"/><circle cx="98.3" cy="193.2" r="1.25"/><circle cx="99.8" cy="159.8" r="1.25"/><circle cx="93.8" cy="144.5" r="1.25"/><circle cx="98.3" cy="189.1" r="1.25"/><circle cx="93.2" cy="181.2" r="1.25"/><circle cx="97.8" cy="175.4" r="1.25"/><circle cx="95.7" cy="157.4" r="1.25"/><circle cx="53.3" cy="159.5" r="1.25"/><circle cx="92.9" cy="179.1" r="1.25"/><circle cx="81.6" cy="161.0" r="1.25"/><circle cx="98.6" cy="159.1" r="1.25"/><circle cx="94.0" cy="162.1" r="1.25"/><circle cx="104.9" cy="176.7" r="1.25"/><circle cx="93.3" cy="169.8" r="1.25"/><circle cx="96.7" cy="146.8" r="1.25"/><circle cx="77.3" cy="144.6" r="1.25"/><circle cx="97.2" cy="160.7" r="1.25"/><circle cx="104.4" cy="199.0" r="1.25"/><circle cx="98.3" cy="169.8" r="1.25"/><circle cx="97.3" cy="174.7" r="1.25"/><circle cx="56.5" cy="182.8" r="1.25"/><circle cx="94.8" cy="165.1" r="1.25"/><circle cx="97.8" cy="190.4" r="1.25"/><circle cx="101.9" cy="187.1" r="1.25"/><circle cx="99.0" cy="159.0" r="1.25"/><circle cx="106.3" cy="191.0" r="1.25"/><circle cx="97.4" cy="167.7" r="1.25"/><circle cx="102.0" cy="169.2" r="1.25"/><circle cx="83.0" cy="146.8" r="1.25"/><circle cx="97.7" cy="164.6" r="1.25"/><circle cx="107.2" cy="160.9" r="1.25"/><circle cx="90.1" cy="174.2" r="1.25"/><circle cx="94.7" cy="158.3" r="1.25"/><circle cx="86.7" cy="140.0" r="1.25"/><circle cx="97.5" cy="172.1" r="1.25"/><circle cx="92.9" cy="177.7" r="1.25"/><circle cx="101.1" cy="158.4" r="1.25"/><circle cx="93.1" cy="153.9" r="1.25"/><circle cx="67.8" cy="177.3" r="1.25"/><circle cx="96.3" cy="157.4" r="1.25"/><circle cx="93.4" cy="175.7" r="1.25"/><circle cx="95.0" cy="151.5" r="1.25"/><circle cx="103.1" cy="174.7" r="1.25"/><circle cx="99.2" cy="161.9" r="1.25"/><circle cx="99.2" cy="147.6" r="1.25"/><circle cx="99.0" cy="183.5" r="1.25"/><circle cx="89.0" cy="158.1" r="1.25"/><circle cx="95.3" cy="192.2" r="1.25"/><circle cx="96.7" cy="165.7" r="1.25"/><circle cx="97.5" cy="182.9" r="1.25"/><circle cx="97.9" cy="167.2" r="1.25"/><circle cx="96.7" cy="136.4" r="1.25"/><circle cx="80.3" cy="150.3" r="1.25"/><circle cx="97.8" cy="159.0" r="1.25"/><circle cx="95.6" cy="179.3" r="1.25"/><circle cx="83.9" cy="156.3" r="1.25"/><circle cx="99.1" cy="187.4" r="1.25"/><circle cx="91.2" cy="172.9" r="1.25"/><circle cx="97.4" cy="168.5" r="1.25"/><circle cx="85.4" cy="171.8" r="1.25"/><circle cx="98.9" cy="161.5" r="1.25"/><circle cx="75.4" cy="146.3" r="1.25"/><circle cx="83.8" cy="164.6" r="1.25"/><circle cx="78.0" cy="174.6" r="1.25"/><circle cx="92.3" cy="143.8" r="1.25"/><circle cx="85.8" cy="169.2" r="1.25"/><circle cx="89.5" cy="133.8" r="1.25"/><circle cx="97.0" cy="172.0" r="1.25"/><circle cx="57.1" cy="135.8" r="1.25"/><circle cx="74.6" cy="185.2" r="1.25"/><circle cx="83.9" cy="149.3" r="1.25"/><circle cx="68.1" cy="181.8" r="1.25"/><circle cx="99.0" cy="168.7" r="1.25"/><circle cx="75.7" cy="165.7" r="1.25"/><circle cx="98.2" cy="142.7" r="1.25"/><circle cx="80.7" cy="163.0" r="1.25"/><circle cx="80.4" cy="194.5" r="1.25"/><circle cx="81.8" cy="141.6" r="1.25"/><circle cx="72.6" cy="172.8" r="1.25"/><circle cx="97.4" cy="155.1" r="1.25"/><circle cx="90.4" cy="145.5" r="1.25"/><circle cx="85.3" cy="169.1" r="1.25"/><circle cx="95.9" cy="156.6" r="1.25"/><circle cx="89.1" cy="183.9" r="1.25"/><circle cx="97.4" cy="190.3" r="1.25"/><circle cx="106.4" cy="167.6" r="1.25"/><circle cx="98.7" cy="172.2" r="1.25"/><circle cx="88.7" cy="161.4" r="1.25"/><circle cx="98.6" cy="175.4" r="1.25"/><circle cx="96.2" cy="172.5" r="1.25"/><circle cx="98.1" cy="120.6" r="1.25"/><circle cx="101.2" cy="178.5" r="1.25"/><circle cx="103.7" cy="172.2" r="1.25"/><circle cx="96.1" cy="159.0" r="1.25"/><circle cx="92.2" cy="151.8" r="1.25"/><circle cx="90.0" cy="165.2" r="1.25"/><circle cx="94.9" cy="171.1" r="1.25"/><circle cx="98.3" cy="148.4" r="1.25"/><circle cx="89.5" cy="124.2" r="1.25"/><circle cx="89.4" cy="138.5" r="1.25"/><circle cx="100.2" cy="145.5" r="1.25"/><circle cx="94.1" cy="179.3" r="1.25"/><circle cx="90.8" cy="186.0" r="1.25"/><circle cx="82.3" cy="203.7" r="1.25"/><circle cx="101.1" cy="193.3" r="1.25"/><circle cx="84.9" cy="153.6" r="1.25"/><circle cx="79.4" cy="165.2" r="1.25"/><circle cx="93.9" cy="130.5" r="1.25"/><circle cx="96.9" cy="124.9" r="1.25"/><circle cx="93.9" cy="168.3" r="1.25"/><circle cx="95.6" cy="196.0" r="1.25"/><circle cx="96.2" cy="183.0" r="1.25"/><circle cx="79.0" cy="136.8" r="1.25"/><circle cx="99.3" cy="195.6" r="1.25"/><circle cx="106.4" cy="173.0" r="1.25"/><circle cx="94.3" cy="150.4" r="1.25"/><circle cx="75.2" cy="141.3" r="1.25"/><circle cx="101.1" cy="145.2" r="1.25"/><circle cx="96.6" cy="166.1" r="1.25"/><circle cx="91.6" cy="148.1" r="1.25"/><circle cx="97.7" cy="111.4" r="1.25"/><circle cx="92.1" cy="184.0" r="1.25"/><circle cx="92.6" cy="144.4" r="1.25"/><circle cx="95.3" cy="143.7" r="1.25"/><circle cx="101.1" cy="169.0" r="1.25"/><circle cx="102.2" cy="177.9" r="1.25"/><circle cx="83.8" cy="161.8" r="1.25"/><circle cx="89.9" cy="164.1" r="1.25"/><circle cx="88.0" cy="182.4" r="1.25"/><circle cx="85.6" cy="196.4" r="1.25"/><circle cx="93.5" cy="135.7" r="1.25"/><circle cx="96.1" cy="171.4" r="1.25"/><circle cx="86.5" cy="196.1" r="1.25"/><circle cx="95.9" cy="157.0" r="1.25"/><circle cx="96.0" cy="197.5" r="1.25"/><circle cx="97.0" cy="174.9" r="1.25"/><circle cx="84.7" cy="187.2" r="1.25"/><circle cx="91.6" cy="189.8" r="1.25"/><circle cx="78.6" cy="176.9" r="1.25"/><circle cx="92.7" cy="147.2" r="1.25"/><circle cx="101.7" cy="184.3" r="1.25"/><circle cx="88.6" cy="152.1" r="1.25"/><circle cx="100.5" cy="186.9" r="1.25"/><circle cx="82.5" cy="152.0" r="1.25"/><circle cx="88.4" cy="149.2" r="1.25"/><circle cx="102.6" cy="196.5" r="1.25"/><circle cx="96.8" cy="182.2" r="1.25"/><circle cx="85.6" cy="128.3" r="1.25"/><circle cx="73.0" cy="192.6" r="1.25"/><circle cx="98.4" cy="173.1" r="1.25"/><circle cx="80.7" cy="178.3" r="1.25"/><circle cx="92.2" cy="197.1" r="1.25"/><circle cx="88.0" cy="161.7" r="1.25"/><circle cx="100.6" cy="191.3" r="1.25"/><circle cx="92.5" cy="167.8" r="1.25"/><circle cx="93.3" cy="173.1" r="1.25"/><circle cx="93.2" cy="173.7" r="1.25"/><circle cx="102.8" cy="156.7" r="1.25"/><circle cx="96.5" cy="170.9" r="1.25"/><circle cx="97.5" cy="160.3" r="1.25"/><circle cx="105.4" cy="178.8" r="1.25"/><circle cx="103.6" cy="161.2" r="1.25"/><circle cx="74.1" cy="179.3" r="1.25"/><circle cx="98.1" cy="140.1" r="1.25"/><circle cx="97.2" cy="137.2" r="1.25"/><circle cx="85.9" cy="153.5" r="1.25"/><circle cx="86.6" cy="167.4" r="1.25"/><circle cx="78.9" cy="146.9" r="1.25"/><circle cx="79.1" cy="156.9" r="1.25"/><circle cx="95.6" cy="149.4" r="1.25"/><circle cx="80.5" cy="147.6" r="1.25"/><circle cx="93.3" cy="153.5" r="1.25"/><circle cx="94.9" cy="151.4" r="1.25"/><circle cx="88.2" cy="178.4" r="1.25"/><circle cx="95.9" cy="159.8" r="1.25"/><circle cx="85.8" cy="177.5" r="1.25"/><circle cx="78.3" cy="119.4" r="1.25"/><circle cx="79.9" cy="180.6" r="1.25"/><circle cx="96.1" cy="161.8" r="1.25"/><circle cx="79.7" cy="176.7" r="1.25"/><circle cx="91.8" cy="149.5" r="1.25"/><circle cx="93.7" cy="139.1" r="1.25"/><circle cx="98.7" cy="147.2" r="1.25"/><circle cx="74.4" cy="174.8" r="1.25"/><circle cx="96.7" cy="144.0" r="1.25"/><circle cx="105.7" cy="117.9" r="1.25"/><circle cx="89.4" cy="168.0" r="1.25"/><circle cx="97.2" cy="143.7" r="1.25"/><circle cx="101.4" cy="161.0" r="1.25"/><circle cx="100.9" cy="136.8" r="1.25"/><circle cx="39.2" cy="183.5" r="1.25"/><circle cx="95.0" cy="186.2" r="1.25"/><circle cx="71.2" cy="162.9" r="1.25"/><circle cx="96.6" cy="183.2" r="1.25"/><circle cx="92.3" cy="146.9" r="1.25"/><circle cx="85.1" cy="121.8" r="1.25"/><circle cx="99.7" cy="148.0" r="1.25"/><circle cx="98.4" cy="146.6" r="1.25"/><circle cx="90.5" cy="160.8" r="1.25"/><circle cx="91.9" cy="149.7" r="1.25"/><circle cx="92.8" cy="171.2" r="1.25"/><circle cx="86.9" cy="157.5" r="1.25"/><circle cx="93.8" cy="187.5" r="1.25"/><circle cx="95.4" cy="172.2" r="1.25"/><circle cx="87.4" cy="146.3" r="1.25"/><circle cx="95.1" cy="184.6" r="1.25"/><circle cx="87.2" cy="135.6" r="1.25"/><circle cx="100.5" cy="159.1" r="1.25"/><circle cx="95.3" cy="194.7" r="1.25"/><circle cx="83.9" cy="141.5" r="1.25"/><circle cx="98.7" cy="116.3" r="1.25"/><circle cx="98.7" cy="132.5" r="1.25"/><circle cx="96.7" cy="115.6" r="1.25"/><circle cx="88.3" cy="196.2" r="1.25"/><circle cx="83.9" cy="162.8" r="1.25"/><circle cx="97.6" cy="161.8" r="1.25"/><circle cx="80.4" cy="150.1" r="1.25"/><circle cx="92.5" cy="166.0" r="1.25"/><circle cx="65.7" cy="163.9" r="1.25"/><circle cx="86.9" cy="165.9" r="1.25"/><circle cx="88.6" cy="186.2" r="1.25"/><circle cx="98.0" cy="184.9" r="1.25"/><circle cx="90.3" cy="170.2" r="1.25"/><circle cx="107.2" cy="163.5" r="1.25"/><circle cx="101.9" cy="199.6" r="1.25"/><circle cx="103.0" cy="143.6" r="1.25"/><circle cx="92.8" cy="160.7" r="1.25"/><circle cx="87.2" cy="170.9" r="1.25"/><circle cx="70.4" cy="157.5" r="1.25"/><circle cx="97.6" cy="177.5" r="1.25"/><circle cx="96.8" cy="151.7" r="1.25"/><circle cx="94.2" cy="156.7" r="1.25"/><circle cx="95.9" cy="175.5" r="1.25"/><circle cx="87.0" cy="186.3" r="1.25"/><circle cx="97.7" cy="193.7" r="1.25"/><circle cx="75.0" cy="203.7" r="1.25"/><circle cx="71.6" cy="166.3" r="1.25"/><circle cx="70.3" cy="170.4" r="1.25"/><circle cx="98.9" cy="174.6" r="1.25"/><circle cx="90.4" cy="169.6" r="1.25"/><circle cx="90.7" cy="176.2" r="1.25"/><circle cx="100.8" cy="143.9" r="1.25"/><circle cx="106.5" cy="180.2" r="1.25"/><circle cx="78.0" cy="167.6" r="1.25"/><circle cx="101.0" cy="149.7" r="1.25"/><circle cx="60.6" cy="163.1" r="1.25"/><circle cx="97.3" cy="202.0" r="1.25"/><circle cx="75.1" cy="175.1" r="1.25"/><circle cx="93.5" cy="167.2" r="1.25"/><circle cx="90.0" cy="145.4" r="1.25"/><circle cx="96.6" cy="195.7" r="1.25"/><circle cx="93.9" cy="144.8" r="1.25"/><circle cx="81.4" cy="173.5" r="1.25"/><circle cx="97.8" cy="161.0" r="1.25"/><circle cx="99.0" cy="148.0" r="1.25"/><circle cx="91.3" cy="154.9" r="1.25"/><circle cx="81.4" cy="144.5" r="1.25"/><circle cx="77.9" cy="165.0" r="1.25"/><circle cx="101.1" cy="170.5" r="1.25"/><circle cx="91.4" cy="135.1" r="1.25"/><circle cx="93.6" cy="181.3" r="1.25"/><circle cx="93.7" cy="189.3" r="1.25"/><circle cx="96.9" cy="163.7" r="1.25"/><circle cx="97.9" cy="157.0" r="1.25"/><circle cx="106.2" cy="171.4" r="1.25"/><circle cx="96.3" cy="178.5" r="1.25"/><circle cx="93.5" cy="144.4" r="1.25"/><circle cx="90.3" cy="166.5" r="1.25"/><circle cx="92.9" cy="174.7" r="1.25"/><circle cx="98.8" cy="157.9" r="1.25"/><circle cx="74.5" cy="178.7" r="1.25"/><circle cx="95.6" cy="162.2" r="1.25"/><circle cx="99.1" cy="172.3" r="1.25"/><circle cx="87.1" cy="181.6" r="1.25"/><circle cx="97.7" cy="157.6" r="1.25"/><circle cx="91.9" cy="181.3" r="1.25"/><circle cx="88.4" cy="161.8" r="1.25"/><circle cx="97.1" cy="163.7" r="1.25"/><circle cx="92.4" cy="167.2" r="1.25"/><circle cx="94.8" cy="176.7" r="1.25"/><circle cx="92.5" cy="166.7" r="1.25"/><circle cx="50.5" cy="120.4" r="1.25"/><circle cx="53.5" cy="121.1" r="1.25"/><circle cx="51.8" cy="141.0" r="1.25"/><circle cx="68.4" cy="141.8" r="1.25"/><circle cx="71.5" cy="143.4" r="1.25"/><circle cx="53.7" cy="149.2" r="1.25"/><circle cx="70.0" cy="154.4" r="1.25"/><circle cx="50.2" cy="159.2" r="1.25"/><circle cx="53.4" cy="160.0" r="1.25"/><circle cx="61.3" cy="160.0" r="1.25"/><circle cx="54.2" cy="167.9" r="1.25"/><circle cx="62.0" cy="166.3" r="1.25"/><circle cx="36.6" cy="184.0" r="1.25"/><circle cx="39.9" cy="184.0" r="1.25"/><circle cx="50.5" cy="204.2" r="1.25"/><circle cx="111.0" cy="104.7" r="1.25"/><circle cx="58.0" cy="183.0" r="1.25"/><circle cx="66.0" cy="178.0" r="1.25"/><circle cx="75.0" cy="186.5" r="1.25"/><circle cx="80.0" cy="186.0" r="1.25"/><circle cx="58.0" cy="190.5" r="1.25"/><circle cx="62.0" cy="176.0" r="1.25"/><circle cx="56.0" cy="171.0" r="1.25"/><circle cx="70.0" cy="170.0" r="1.25"/></g>
<g fill="#f01414" stroke="#b00a0a" stroke-width="0.3"><circle cx="237.6" cy="135.6" r="1.12"/><circle cx="243.3" cy="149.3" r="1.12"/><circle cx="239.0" cy="176.9" r="1.12"/><circle cx="244.1" cy="154.2" r="1.12"/><circle cx="257.8" cy="154.7" r="1.12"/><circle cx="257.8" cy="179.7" r="1.12"/><circle cx="243.5" cy="169.1" r="1.12"/><circle cx="265.6" cy="192.2" r="1.12"/><circle cx="237.7" cy="161.1" r="1.12"/><circle cx="250.4" cy="162.1" r="1.12"/><circle cx="281.5" cy="158.7" r="1.12"/><circle cx="249.2" cy="160.6" r="1.12"/><circle cx="254.9" cy="163.9" r="1.12"/><circle cx="240.8" cy="147.5" r="1.12"/><circle cx="245.1" cy="161.0" r="1.12"/><circle cx="258.1" cy="150.9" r="1.12"/><circle cx="271.2" cy="173.4" r="1.12"/><circle cx="255.6" cy="160.1" r="1.12"/><circle cx="238.4" cy="186.5" r="1.12"/><circle cx="288.1" cy="196.1" r="1.12"/><circle cx="245.9" cy="171.4" r="1.12"/><circle cx="270.3" cy="172.2" r="1.12"/><circle cx="238.2" cy="155.1" r="1.12"/><circle cx="250.3" cy="173.8" r="1.12"/><circle cx="256.9" cy="158.7" r="1.12"/><circle cx="265.8" cy="173.6" r="1.12"/><circle cx="238.4" cy="171.7" r="1.12"/><circle cx="261.4" cy="161.0" r="1.12"/><circle cx="248.9" cy="141.7" r="1.12"/><circle cx="246.5" cy="158.8" r="1.12"/><circle cx="270.2" cy="167.1" r="1.12"/><circle cx="238.9" cy="163.0" r="1.12"/><circle cx="257.1" cy="181.5" r="1.12"/><circle cx="269.5" cy="162.3" r="1.12"/><circle cx="239.2" cy="185.7" r="1.12"/><circle cx="240.5" cy="145.8" r="1.12"/><circle cx="270.4" cy="179.9" r="1.12"/><circle cx="269.2" cy="141.5" r="1.12"/><circle cx="282.1" cy="174.3" r="1.12"/><circle cx="254.4" cy="177.6" r="1.12"/><circle cx="252.1" cy="171.2" r="1.12"/><circle cx="242.7" cy="143.0" r="1.12"/><circle cx="246.9" cy="169.2" r="1.12"/><circle cx="238.7" cy="160.8" r="1.12"/><circle cx="251.9" cy="161.8" r="1.12"/><circle cx="254.4" cy="139.5" r="1.12"/><circle cx="296.7" cy="184.8" r="1.12"/><circle cx="272.9" cy="150.7" r="1.12"/><circle cx="307.7" cy="162.0" r="1.12"/><circle cx="240.6" cy="146.4" r="1.12"/><circle cx="307.7" cy="168.1" r="1.12"/><circle cx="327.2" cy="162.6" r="1.12"/><circle cx="251.8" cy="173.2" r="1.12"/><circle cx="246.9" cy="174.8" r="1.12"/><circle cx="269.2" cy="165.2" r="1.12"/><circle cx="248.1" cy="123.4" r="1.12"/><circle cx="250.0" cy="149.9" r="1.12"/><circle cx="260.9" cy="144.6" r="1.12"/><circle cx="264.9" cy="162.9" r="1.12"/><circle cx="265.7" cy="138.7" r="1.12"/><circle cx="276.8" cy="165.2" r="1.12"/><circle cx="238.6" cy="147.0" r="1.12"/><circle cx="279.5" cy="175.1" r="1.12"/><circle cx="251.0" cy="155.8" r="1.12"/><circle cx="290.7" cy="136.3" r="1.12"/><circle cx="246.4" cy="157.9" r="1.12"/><circle cx="275.1" cy="168.2" r="1.12"/><circle cx="244.6" cy="168.9" r="1.12"/><circle cx="238.8" cy="155.2" r="1.12"/><circle cx="264.5" cy="174.5" r="1.12"/><circle cx="288.3" cy="146.4" r="1.12"/><circle cx="267.5" cy="193.1" r="1.12"/><circle cx="259.2" cy="168.7" r="1.12"/><circle cx="264.9" cy="171.2" r="1.12"/><circle cx="298.2" cy="153.5" r="1.12"/><circle cx="241.4" cy="163.3" r="1.12"/><circle cx="243.0" cy="151.9" r="1.12"/><circle cx="294.6" cy="172.1" r="1.12"/><circle cx="268.4" cy="155.4" r="1.12"/><circle cx="267.8" cy="189.6" r="1.12"/><circle cx="256.9" cy="181.5" r="1.12"/><circle cx="253.2" cy="156.9" r="1.12"/><circle cx="258.1" cy="183.6" r="1.12"/><circle cx="256.7" cy="198.9" r="1.12"/><circle cx="255.6" cy="167.7" r="1.12"/><circle cx="292.2" cy="148.9" r="1.12"/><circle cx="253.7" cy="169.7" r="1.12"/><circle cx="245.0" cy="177.1" r="1.12"/><circle cx="239.4" cy="149.4" r="1.12"/><circle cx="280.3" cy="168.9" r="1.12"/><circle cx="279.9" cy="153.0" r="1.12"/><circle cx="260.4" cy="178.4" r="1.12"/><circle cx="261.6" cy="191.4" r="1.12"/><circle cx="270.0" cy="164.0" r="1.12"/><circle cx="257.1" cy="188.6" r="1.12"/><circle cx="248.1" cy="173.5" r="1.12"/><circle cx="286.4" cy="172.7" r="1.12"/><circle cx="240.4" cy="147.7" r="1.12"/><circle cx="256.2" cy="168.1" r="1.12"/><circle cx="299.5" cy="142.3" r="1.12"/><circle cx="254.2" cy="172.3" r="1.12"/><circle cx="239.6" cy="180.8" r="1.12"/><circle cx="262.8" cy="189.4" r="1.12"/><circle cx="251.4" cy="156.7" r="1.12"/><circle cx="242.1" cy="152.5" r="1.12"/><circle cx="252.4" cy="163.2" r="1.12"/><circle cx="262.3" cy="155.5" r="1.12"/><circle cx="271.0" cy="154.9" r="1.12"/><circle cx="272.7" cy="172.9" r="1.12"/><circle cx="265.0" cy="144.8" r="1.12"/><circle cx="253.7" cy="161.2" r="1.12"/><circle cx="242.5" cy="164.8" r="1.12"/><circle cx="244.8" cy="174.0" r="1.12"/><circle cx="288.0" cy="134.2" r="1.12"/><circle cx="242.9" cy="196.5" r="1.12"/><circle cx="262.9" cy="183.5" r="1.12"/><circle cx="258.2" cy="155.8" r="1.12"/><circle cx="283.8" cy="169.2" r="1.12"/><circle cx="258.3" cy="155.4" r="1.12"/><circle cx="272.6" cy="145.4" r="1.12"/><circle cx="285.1" cy="174.5" r="1.12"/><circle cx="247.3" cy="144.8" r="1.12"/><circle cx="240.4" cy="167.2" r="1.12"/><circle cx="260.0" cy="163.7" r="1.12"/><circle cx="238.3" cy="153.3" r="1.12"/><circle cx="276.8" cy="153.2" r="1.12"/><circle cx="237.6" cy="167.7" r="1.12"/><circle cx="282.7" cy="161.9" r="1.12"/><circle cx="237.5" cy="136.0" r="1.12"/><circle cx="281.7" cy="155.9" r="1.12"/><circle cx="240.2" cy="175.5" r="1.12"/><circle cx="267.4" cy="172.5" r="1.12"/><circle cx="264.4" cy="177.9" r="1.12"/><circle cx="240.0" cy="158.6" r="1.12"/><circle cx="241.2" cy="161.4" r="1.12"/><circle cx="247.9" cy="183.4" r="1.12"/><circle cx="268.6" cy="167.6" r="1.12"/><circle cx="288.4" cy="167.2" r="1.12"/><circle cx="263.4" cy="175.9" r="1.12"/><circle cx="238.0" cy="146.0" r="1.12"/><circle cx="253.2" cy="156.1" r="1.12"/><circle cx="242.4" cy="170.9" r="1.12"/><circle cx="263.9" cy="167.6" r="1.12"/><circle cx="257.6" cy="156.5" r="1.12"/><circle cx="287.1" cy="146.9" r="1.12"/><circle cx="258.6" cy="155.8" r="1.12"/><circle cx="279.6" cy="155.4" r="1.12"/><circle cx="285.6" cy="164.3" r="1.12"/><circle cx="249.8" cy="176.2" r="1.12"/><circle cx="269.2" cy="158.2" r="1.12"/><circle cx="251.6" cy="172.1" r="1.12"/><circle cx="243.9" cy="173.4" r="1.12"/><circle cx="253.2" cy="166.1" r="1.12"/><circle cx="267.5" cy="191.2" r="1.12"/><circle cx="246.7" cy="139.1" r="1.12"/><circle cx="246.1" cy="162.7" r="1.12"/><circle cx="260.8" cy="181.4" r="1.12"/><circle cx="271.4" cy="192.0" r="1.12"/><circle cx="278.4" cy="161.2" r="1.12"/><circle cx="261.2" cy="171.9" r="1.12"/><circle cx="256.3" cy="158.7" r="1.12"/><circle cx="254.5" cy="161.0" r="1.12"/><circle cx="291.1" cy="174.0" r="1.12"/><circle cx="308.8" cy="161.3" r="1.12"/><circle cx="261.1" cy="175.8" r="1.12"/><circle cx="279.7" cy="143.8" r="1.12"/><circle cx="250.7" cy="160.7" r="1.12"/><circle cx="242.0" cy="174.6" r="1.12"/><circle cx="238.5" cy="134.3" r="1.12"/><circle cx="261.9" cy="175.9" r="1.12"/><circle cx="241.7" cy="150.8" r="1.12"/><circle cx="260.7" cy="180.8" r="1.12"/><circle cx="240.7" cy="169.5" r="1.12"/><circle cx="272.0" cy="163.9" r="1.12"/><circle cx="250.7" cy="150.3" r="1.12"/><circle cx="249.3" cy="177.8" r="1.12"/><circle cx="239.4" cy="170.9" r="1.12"/><circle cx="255.0" cy="173.0" r="1.12"/><circle cx="267.2" cy="171.8" r="1.12"/><circle cx="285.6" cy="177.7" r="1.12"/><circle cx="259.9" cy="130.5" r="1.12"/><circle cx="266.9" cy="170.9" r="1.12"/><circle cx="246.4" cy="187.9" r="1.12"/><circle cx="248.4" cy="166.0" r="1.12"/><circle cx="245.0" cy="129.1" r="1.12"/><circle cx="244.6" cy="152.4" r="1.12"/><circle cx="260.7" cy="175.4" r="1.12"/><circle cx="253.8" cy="140.1" r="1.12"/><circle cx="257.3" cy="162.9" r="1.12"/><circle cx="268.0" cy="150.9" r="1.12"/><circle cx="252.0" cy="129.8" r="1.12"/><circle cx="278.8" cy="152.2" r="1.12"/><circle cx="244.6" cy="164.2" r="1.12"/><circle cx="252.6" cy="160.2" r="1.12"/><circle cx="244.0" cy="154.7" r="1.12"/><circle cx="267.8" cy="160.1" r="1.12"/><circle cx="252.4" cy="152.2" r="1.12"/><circle cx="281.0" cy="178.6" r="1.12"/><circle cx="248.9" cy="156.3" r="1.12"/><circle cx="252.2" cy="157.0" r="1.12"/><circle cx="239.6" cy="166.8" r="1.12"/><circle cx="284.8" cy="137.3" r="1.12"/><circle cx="276.7" cy="158.1" r="1.12"/><circle cx="256.1" cy="173.5" r="1.12"/><circle cx="282.1" cy="159.5" r="1.12"/><circle cx="238.6" cy="173.9" r="1.12"/><circle cx="262.5" cy="126.0" r="1.12"/><circle cx="278.8" cy="146.3" r="1.12"/><circle cx="248.7" cy="154.6" r="1.12"/><circle cx="238.1" cy="146.5" r="1.12"/><circle cx="253.5" cy="165.7" r="1.12"/><circle cx="252.7" cy="176.7" r="1.12"/><circle cx="259.5" cy="140.9" r="1.12"/><circle cx="247.3" cy="156.2" r="1.12"/><circle cx="284.1" cy="150.1" r="1.12"/><circle cx="261.9" cy="181.6" r="1.12"/><circle cx="286.3" cy="163.3" r="1.12"/><circle cx="285.9" cy="187.2" r="1.12"/><circle cx="261.8" cy="169.6" r="1.12"/><circle cx="268.2" cy="190.1" r="1.12"/><circle cx="239.8" cy="149.4" r="1.12"/><circle cx="256.2" cy="154.2" r="1.12"/><circle cx="247.2" cy="159.6" r="1.12"/><circle cx="246.2" cy="129.2" r="1.12"/><circle cx="272.0" cy="152.6" r="1.12"/><circle cx="274.1" cy="183.3" r="1.12"/><circle cx="239.4" cy="128.0" r="1.12"/><circle cx="266.7" cy="169.0" r="1.12"/><circle cx="285.4" cy="160.3" r="1.12"/><circle cx="257.6" cy="174.2" r="1.12"/><circle cx="260.7" cy="160.4" r="1.12"/><circle cx="250.2" cy="179.7" r="1.12"/><circle cx="243.5" cy="158.6" r="1.12"/><circle cx="261.2" cy="147.3" r="1.12"/><circle cx="284.0" cy="158.6" r="1.12"/><circle cx="248.0" cy="139.8" r="1.12"/><circle cx="255.2" cy="175.9" r="1.12"/><circle cx="275.0" cy="133.2" r="1.12"/><circle cx="254.5" cy="182.6" r="1.12"/><circle cx="246.5" cy="180.6" r="1.12"/><circle cx="280.1" cy="158.4" r="1.12"/><circle cx="294.6" cy="161.8" r="1.12"/><circle cx="262.9" cy="165.1" r="1.12"/><circle cx="250.4" cy="167.0" r="1.12"/><circle cx="243.0" cy="161.7" r="1.12"/><circle cx="257.0" cy="159.6" r="1.12"/><circle cx="241.7" cy="165.8" r="1.12"/><circle cx="256.4" cy="181.5" r="1.12"/><circle cx="244.0" cy="151.9" r="1.12"/><circle cx="305.4" cy="173.8" r="1.12"/><circle cx="275.3" cy="150.4" r="1.12"/><circle cx="257.2" cy="143.4" r="1.12"/><circle cx="264.9" cy="177.9" r="1.12"/><circle cx="291.9" cy="172.2" r="1.12"/><circle cx="243.2" cy="191.8" r="1.12"/><circle cx="265.6" cy="184.1" r="1.12"/><circle cx="240.9" cy="194.7" r="1.12"/><circle cx="267.1" cy="170.9" r="1.12"/><circle cx="254.2" cy="175.4" r="1.12"/><circle cx="258.1" cy="140.5" r="1.12"/><circle cx="248.6" cy="139.2" r="1.12"/><circle cx="282.6" cy="143.5" r="1.12"/><circle cx="245.5" cy="189.2" r="1.12"/><circle cx="256.1" cy="171.8" r="1.12"/><circle cx="242.6" cy="195.6" r="1.12"/><circle cx="245.0" cy="161.4" r="1.12"/><circle cx="263.6" cy="160.4" r="1.12"/><circle cx="284.4" cy="161.5" r="1.12"/><circle cx="256.4" cy="126.7" r="1.12"/><circle cx="298.0" cy="180.0" r="1.12"/><circle cx="248.6" cy="174.7" r="1.12"/><circle cx="302.0" cy="161.0" r="1.12"/><circle cx="260.6" cy="178.0" r="1.12"/><circle cx="278.6" cy="157.1" r="1.12"/><circle cx="270.8" cy="189.8" r="1.12"/><circle cx="237.1" cy="139.4" r="1.12"/><circle cx="294.1" cy="143.9" r="1.12"/><circle cx="237.1" cy="162.2" r="1.12"/><circle cx="254.8" cy="147.4" r="1.12"/><circle cx="256.8" cy="163.2" r="1.12"/><circle cx="295.5" cy="189.5" r="1.12"/><circle cx="287.5" cy="164.2" r="1.12"/><circle cx="243.2" cy="200.6" r="1.12"/><circle cx="238.0" cy="131.7" r="1.12"/><circle cx="279.5" cy="203.6" r="1.12"/><circle cx="241.6" cy="173.8" r="1.12"/><circle cx="243.0" cy="185.5" r="1.12"/><circle cx="275.5" cy="185.2" r="1.12"/><circle cx="255.2" cy="165.9" r="1.12"/><circle cx="260.4" cy="182.6" r="1.12"/><circle cx="253.8" cy="172.3" r="1.12"/><circle cx="239.6" cy="150.1" r="1.12"/><circle cx="238.0" cy="170.9" r="1.12"/><circle cx="284.3" cy="164.1" r="1.12"/><circle cx="259.3" cy="175.4" r="1.12"/><circle cx="238.9" cy="193.8" r="1.12"/><circle cx="275.0" cy="158.6" r="1.12"/><circle cx="273.9" cy="170.2" r="1.12"/><circle cx="284.6" cy="171.3" r="1.12"/><circle cx="281.6" cy="169.6" r="1.12"/><circle cx="292.0" cy="160.3" r="1.12"/><circle cx="241.4" cy="148.3" r="1.12"/><circle cx="247.9" cy="159.8" r="1.12"/><circle cx="242.8" cy="157.9" r="1.12"/><circle cx="278.9" cy="153.6" r="1.12"/><circle cx="262.2" cy="202.3" r="1.12"/><circle cx="314.4" cy="179.7" r="1.12"/><circle cx="279.6" cy="164.8" r="1.12"/><circle cx="256.4" cy="156.2" r="1.12"/><circle cx="262.4" cy="175.6" r="1.12"/><circle cx="253.8" cy="159.1" r="1.12"/><circle cx="254.4" cy="155.8" r="1.12"/><circle cx="246.8" cy="173.1" r="1.12"/><circle cx="268.6" cy="157.5" r="1.12"/><circle cx="267.5" cy="148.7" r="1.12"/><circle cx="306.8" cy="161.7" r="1.12"/><circle cx="256.1" cy="163.2" r="1.12"/><circle cx="250.7" cy="170.2" r="1.12"/><circle cx="242.6" cy="159.5" r="1.12"/><circle cx="259.9" cy="177.9" r="1.12"/><circle cx="252.6" cy="178.9" r="1.12"/><circle cx="249.3" cy="171.2" r="1.12"/><circle cx="264.1" cy="146.1" r="1.12"/><circle cx="284.6" cy="166.9" r="1.12"/><circle cx="238.5" cy="149.5" r="1.12"/><circle cx="275.1" cy="179.4" r="1.12"/><circle cx="269.5" cy="150.4" r="1.12"/><circle cx="251.2" cy="177.9" r="1.12"/><circle cx="247.1" cy="188.2" r="1.12"/><circle cx="251.4" cy="169.0" r="1.12"/><circle cx="307.8" cy="155.5" r="1.12"/><circle cx="259.0" cy="147.7" r="1.12"/><circle cx="278.4" cy="186.2" r="1.12"/><circle cx="260.5" cy="186.6" r="1.12"/><circle cx="296.2" cy="181.2" r="1.12"/><circle cx="246.1" cy="161.8" r="1.12"/><circle cx="250.2" cy="141.4" r="1.12"/><circle cx="268.4" cy="150.7" r="1.12"/><circle cx="241.4" cy="184.4" r="1.12"/><circle cx="241.4" cy="188.2" r="1.12"/><circle cx="283.8" cy="177.2" r="1.12"/><circle cx="266.1" cy="143.8" r="1.12"/><circle cx="254.9" cy="179.9" r="1.12"/><circle cx="240.8" cy="182.4" r="1.12"/><circle cx="263.0" cy="162.3" r="1.12"/><circle cx="259.1" cy="176.5" r="1.12"/><circle cx="258.0" cy="189.0" r="1.12"/><circle cx="285.8" cy="178.1" r="1.12"/><circle cx="242.7" cy="180.4" r="1.12"/><circle cx="284.0" cy="151.6" r="1.12"/><circle cx="274.7" cy="154.4" r="1.12"/><circle cx="239.7" cy="137.2" r="1.12"/><circle cx="256.3" cy="158.0" r="1.12"/><circle cx="253.7" cy="153.0" r="1.12"/><circle cx="245.1" cy="167.9" r="1.12"/><circle cx="283.2" cy="131.2" r="1.12"/><circle cx="274.7" cy="200.7" r="1.12"/><circle cx="257.7" cy="133.3" r="1.12"/><circle cx="272.4" cy="175.1" r="1.12"/><circle cx="244.7" cy="165.6" r="1.12"/><circle cx="253.9" cy="104.6" r="1.12"/><circle cx="285.6" cy="122.1" r="1.12"/><circle cx="268.5" cy="148.1" r="1.12"/><circle cx="239.1" cy="157.8" r="1.12"/><circle cx="241.7" cy="108.8" r="1.12"/><circle cx="271.5" cy="150.0" r="1.12"/><circle cx="241.2" cy="146.4" r="1.12"/><circle cx="269.6" cy="140.1" r="1.12"/><circle cx="275.7" cy="128.1" r="1.12"/><circle cx="256.8" cy="162.1" r="1.12"/><circle cx="254.2" cy="157.0" r="1.12"/><circle cx="279.4" cy="134.2" r="1.12"/><circle cx="243.7" cy="149.1" r="1.12"/><circle cx="252.0" cy="140.6" r="1.12"/><circle cx="283.3" cy="121.4" r="1.12"/><circle cx="276.6" cy="142.9" r="1.12"/><circle cx="238.2" cy="136.5" r="1.12"/><circle cx="266.7" cy="137.6" r="1.12"/><circle cx="268.9" cy="172.6" r="1.12"/><circle cx="336.5" cy="130.2" r="1.12"/><circle cx="305.0" cy="122.7" r="1.12"/><circle cx="242.4" cy="176.7" r="1.12"/><circle cx="243.7" cy="191.5" r="1.12"/><circle cx="237.2" cy="125.1" r="1.12"/><circle cx="293.1" cy="148.3" r="1.12"/><circle cx="237.3" cy="192.6" r="1.12"/><circle cx="292.5" cy="195.8" r="1.12"/><circle cx="266.3" cy="133.1" r="1.12"/><circle cx="282.2" cy="114.4" r="1.12"/><circle cx="344.8" cy="118.3" r="1.12"/><circle cx="250.2" cy="174.9" r="1.12"/><circle cx="253.4" cy="164.5" r="1.12"/><circle cx="291.5" cy="143.1" r="1.12"/><circle cx="277.4" cy="178.1" r="1.12"/><circle cx="247.6" cy="109.6" r="1.12"/><circle cx="269.7" cy="123.6" r="1.12"/><circle cx="260.3" cy="105.7" r="1.12"/><circle cx="248.2" cy="145.3" r="1.12"/><circle cx="329.2" cy="162.5" r="1.12"/><circle cx="286.0" cy="125.8" r="1.12"/><circle cx="266.5" cy="114.7" r="1.12"/><circle cx="319.4" cy="184.3" r="1.12"/><circle cx="330.8" cy="173.3" r="1.12"/><circle cx="240.2" cy="154.2" r="1.12"/><circle cx="248.3" cy="170.7" r="1.12"/><circle cx="241.2" cy="133.7" r="1.12"/><circle cx="281.9" cy="180.6" r="1.12"/><circle cx="247.3" cy="162.1" r="1.12"/><circle cx="240.6" cy="200.7" r="1.12"/><circle cx="260.6" cy="160.3" r="1.12"/><circle cx="273.8" cy="177.6" r="1.12"/><circle cx="248.3" cy="204.0" r="1.12"/><circle cx="336.3" cy="106.4" r="1.12"/><circle cx="256.3" cy="180.9" r="1.12"/><circle cx="286.3" cy="139.9" r="1.12"/><circle cx="254.8" cy="123.5" r="1.12"/><circle cx="241.4" cy="167.3" r="1.12"/><circle cx="284.9" cy="128.2" r="1.12"/><circle cx="239.0" cy="120.0" r="1.12"/><circle cx="264.0" cy="157.6" r="1.12"/><circle cx="272.1" cy="172.8" r="1.12"/><circle cx="253.4" cy="156.3" r="1.12"/><circle cx="238.2" cy="100.2" r="1.12"/><circle cx="259.6" cy="105.4" r="1.12"/><circle cx="314.5" cy="125.5" r="1.12"/><circle cx="238.3" cy="190.3" r="1.12"/><circle cx="281.0" cy="149.0" r="1.12"/><circle cx="282.3" cy="196.0" r="1.12"/><circle cx="244.2" cy="97.1" r="1.12"/><circle cx="242.1" cy="150.4" r="1.12"/><circle cx="244.2" cy="170.8" r="1.12"/><circle cx="261.1" cy="166.1" r="1.12"/><circle cx="329.1" cy="140.9" r="1.12"/><circle cx="259.3" cy="151.4" r="1.12"/><circle cx="321.5" cy="179.3" r="1.12"/><circle cx="245.7" cy="121.4" r="1.12"/><circle cx="359.7" cy="180.0" r="1.12"/><circle cx="288.1" cy="182.4" r="1.12"/><circle cx="303.9" cy="184.3" r="1.12"/><circle cx="257.4" cy="101.2" r="1.12"/><circle cx="293.8" cy="117.2" r="1.12"/><circle cx="276.7" cy="157.3" r="1.12"/><circle cx="258.6" cy="178.9" r="1.12"/><circle cx="297.0" cy="173.0" r="1.12"/><circle cx="243.1" cy="172.3" r="1.12"/><circle cx="255.0" cy="192.3" r="1.12"/><circle cx="243.4" cy="134.0" r="1.12"/><circle cx="260.6" cy="130.3" r="1.12"/><circle cx="247.9" cy="182.9" r="1.12"/><circle cx="286.7" cy="127.8" r="1.12"/><circle cx="267.9" cy="123.0" r="1.12"/><circle cx="252.9" cy="102.1" r="1.12"/><circle cx="348.3" cy="139.8" r="1.12"/><circle cx="267.3" cy="158.5" r="1.12"/><circle cx="355.0" cy="185.6" r="1.12"/><circle cx="250.1" cy="131.0" r="1.12"/><circle cx="238.1" cy="152.1" r="1.12"/><circle cx="248.6" cy="141.4" r="1.12"/><circle cx="271.4" cy="185.4" r="1.12"/><circle cx="277.1" cy="205.2" r="1.12"/><circle cx="271.9" cy="99.5" r="1.12"/><circle cx="264.2" cy="126.9" r="1.12"/><circle cx="252.5" cy="191.3" r="1.12"/><circle cx="269.2" cy="181.8" r="1.12"/><circle cx="246.8" cy="145.5" r="1.12"/><circle cx="237.4" cy="158.5" r="1.12"/><circle cx="264.9" cy="146.6" r="1.12"/><circle cx="241.4" cy="121.4" r="1.12"/><circle cx="299.8" cy="179.3" r="1.12"/><circle cx="327.5" cy="197.3" r="1.12"/><circle cx="276.3" cy="157.0" r="1.12"/><circle cx="238.8" cy="158.4" r="1.12"/><circle cx="256.3" cy="130.5" r="1.12"/><circle cx="266.2" cy="161.7" r="1.12"/><circle cx="237.4" cy="123.1" r="1.12"/><circle cx="267.9" cy="154.3" r="1.12"/><circle cx="244.9" cy="161.0" r="1.12"/><circle cx="243.9" cy="149.6" r="1.12"/><circle cx="330.2" cy="168.9" r="1.12"/><circle cx="247.8" cy="129.6" r="1.12"/><circle cx="250.6" cy="181.8" r="1.12"/><circle cx="354.6" cy="195.9" r="1.12"/><circle cx="239.5" cy="129.9" r="1.12"/><circle cx="298.5" cy="141.8" r="1.12"/><circle cx="284.5" cy="158.3" r="1.12"/><circle cx="248.0" cy="139.1" r="1.12"/><circle cx="274.6" cy="133.2" r="1.12"/><circle cx="343.3" cy="160.3" r="1.12"/><circle cx="270.9" cy="167.0" r="1.12"/><circle cx="281.9" cy="171.5" r="1.12"/><circle cx="264.8" cy="198.3" r="1.12"/><circle cx="247.3" cy="105.5" r="1.12"/><circle cx="242.3" cy="147.1" r="1.12"/><circle cx="267.8" cy="141.9" r="1.12"/><circle cx="292.9" cy="137.1" r="1.12"/><circle cx="266.6" cy="125.9" r="1.12"/><circle cx="265.5" cy="189.4" r="1.12"/><circle cx="237.6" cy="136.5" r="1.12"/><circle cx="239.1" cy="176.5" r="1.12"/><circle cx="286.0" cy="146.0" r="1.12"/><circle cx="246.6" cy="146.4" r="1.12"/><circle cx="240.4" cy="177.0" r="1.12"/><circle cx="259.5" cy="177.7" r="1.12"/><circle cx="287.2" cy="138.6" r="1.12"/><circle cx="245.8" cy="184.6" r="1.12"/><circle cx="257.9" cy="157.9" r="1.12"/><circle cx="269.1" cy="151.7" r="1.12"/><circle cx="240.0" cy="146.0" r="1.12"/><circle cx="251.0" cy="118.9" r="1.12"/><circle cx="256.1" cy="133.1" r="1.12"/><circle cx="249.8" cy="162.1" r="1.12"/><circle cx="246.8" cy="141.8" r="1.12"/><circle cx="250.6" cy="134.9" r="1.12"/><circle cx="320.4" cy="165.4" r="1.12"/><circle cx="243.3" cy="187.9" r="1.12"/><circle cx="238.7" cy="113.8" r="1.12"/><circle cx="273.2" cy="115.2" r="1.12"/><circle cx="243.0" cy="164.1" r="1.12"/><circle cx="261.5" cy="164.1" r="1.12"/><circle cx="251.2" cy="116.1" r="1.12"/><circle cx="280.7" cy="126.2" r="1.12"/><circle cx="261.8" cy="134.1" r="1.12"/><circle cx="256.7" cy="116.8" r="1.12"/><circle cx="274.5" cy="101.0" r="1.12"/><circle cx="237.2" cy="120.6" r="1.12"/><circle cx="245.8" cy="173.0" r="1.12"/><circle cx="240.2" cy="144.4" r="1.12"/><circle cx="277.3" cy="128.9" r="1.12"/><circle cx="247.8" cy="157.7" r="1.12"/><circle cx="275.5" cy="151.3" r="1.12"/><circle cx="277.4" cy="126.0" r="1.12"/><circle cx="256.6" cy="150.0" r="1.12"/><circle cx="264.2" cy="146.8" r="1.12"/><circle cx="324.5" cy="127.2" r="1.12"/><circle cx="260.3" cy="135.3" r="1.12"/><circle cx="244.5" cy="173.9" r="1.12"/><circle cx="294.3" cy="188.0" r="1.12"/><circle cx="249.0" cy="105.0" r="1.12"/><circle cx="259.3" cy="179.3" r="1.12"/><circle cx="242.3" cy="172.5" r="1.12"/><circle cx="277.1" cy="154.9" r="1.12"/><circle cx="278.5" cy="196.2" r="1.12"/><circle cx="238.7" cy="168.5" r="1.12"/><circle cx="241.2" cy="161.0" r="1.12"/><circle cx="267.3" cy="147.4" r="1.12"/><circle cx="281.5" cy="183.9" r="1.12"/><circle cx="252.9" cy="117.9" r="1.12"/><circle cx="280.2" cy="170.9" r="1.12"/><circle cx="257.0" cy="143.1" r="1.12"/><circle cx="281.9" cy="156.3" r="1.12"/><circle cx="306.3" cy="168.2" r="1.12"/><circle cx="308.3" cy="170.1" r="1.12"/><circle cx="280.7" cy="134.1" r="1.12"/><circle cx="275.6" cy="136.7" r="1.12"/><circle cx="237.2" cy="128.9" r="1.12"/><circle cx="309.0" cy="149.0" r="1.12"/><circle cx="250.3" cy="111.3" r="1.12"/><circle cx="306.4" cy="185.8" r="1.12"/><circle cx="267.8" cy="113.3" r="1.12"/><circle cx="339.3" cy="165.0" r="1.12"/><circle cx="265.9" cy="144.3" r="1.12"/><circle cx="259.9" cy="121.5" r="1.12"/><circle cx="251.3" cy="182.3" r="1.12"/><circle cx="267.8" cy="130.4" r="1.12"/><circle cx="245.8" cy="162.8" r="1.12"/><circle cx="261.3" cy="120.8" r="1.12"/><circle cx="255.8" cy="166.7" r="1.12"/><circle cx="263.3" cy="173.5" r="1.12"/><circle cx="248.2" cy="150.6" r="1.12"/><circle cx="289.6" cy="204.1" r="1.12"/><circle cx="262.3" cy="156.1" r="1.12"/><circle cx="261.8" cy="174.6" r="1.12"/><circle cx="254.9" cy="138.6" r="1.12"/><circle cx="279.8" cy="141.9" r="1.12"/><circle cx="282.5" cy="188.6" r="1.12"/><circle cx="245.3" cy="184.2" r="1.12"/><circle cx="249.7" cy="148.0" r="1.12"/><circle cx="252.5" cy="155.1" r="1.12"/><circle cx="245.1" cy="151.1" r="1.12"/><circle cx="273.9" cy="103.1" r="1.12"/></g>
<g fill="#d81212" stroke="#6a0505" stroke-width="0.45"><circle cx="356.0" cy="108.3" r="1.1"/><circle cx="350.4" cy="119.9" r="1.1"/><circle cx="338.3" cy="132.3" r="1.1"/><circle cx="412.2" cy="122.4" r="1.1"/><circle cx="469.8" cy="129.2" r="1.1"/><circle cx="464.7" cy="141.3" r="1.1"/><circle cx="427.9" cy="149.4" r="1.1"/><circle cx="500.3" cy="151.9" r="1.1"/><circle cx="405.6" cy="163.8" r="1.1"/><circle cx="405.6" cy="169.6" r="1.1"/><circle cx="358.0" cy="172.1" r="1.1"/><circle cx="347.0" cy="184.5" r="1.1"/><circle cx="353.4" cy="185.2" r="1.1"/><circle cx="360.5" cy="194.6" r="1.1"/><circle cx="347.0" cy="164.5" r="1.1"/><circle cx="338.8" cy="177.7" r="1.1"/><circle cx="340.3" cy="194.0" r="1.1"/><circle cx="384.8" cy="174.8" r="1.1"/><circle cx="372.2" cy="184.8" r="1.1"/><circle cx="350.0" cy="140.8" r="1.1"/><circle cx="349.2" cy="146.3" r="1.1"/><circle cx="356.6" cy="148.7" r="1.1"/><circle cx="323.2" cy="148.7" r="1.1"/><circle cx="327.1" cy="148.7" r="1.1"/><circle cx="329.5" cy="149.4" r="1.1"/><circle cx="339.7" cy="147.1" r="1.1"/><circle cx="343.7" cy="145.2" r="1.1"/><circle cx="369.7" cy="158.4" r="1.1"/><circle cx="384.6" cy="158.9" r="1.1"/><circle cx="346.5" cy="165.2" r="1.1"/><circle cx="327.1" cy="133.7" r="1.1"/><circle cx="323.2" cy="152.6" r="1.1"/><circle cx="327.9" cy="151.8" r="1.1"/></g>
<g fill="#101050"><circle cx="250.0" cy="216.0" r="1.25"/><circle cx="257.9" cy="213.6" r="1.25"/><circle cx="267.3" cy="213.6" r="1.25"/><circle cx="272.9" cy="216.0" r="1.25"/><circle cx="262.1" cy="224.5" r="1.25"/></g>
<g stroke="#5e5e5e" stroke-width="1.6" fill="none" stroke-dasharray="7.1 5.02"><path d="M237.5,94.1 H514 V1.7 H237.5 Z"/><path d="M237.5,208.4 H514 V95.4 H237.5 Z"/></g>
<g class="lb"><text x="126.5" y="12.1">TMF1</text><text x="145.7" y="13.0">ERN1</text><text x="165.3" y="9.8">KCNS1</text><text x="163.6" y="16.2">CXCL17</text><text x="198.2" y="12.4">FAM3B</text><text x="129.2" y="20.3">TCOF1TCOF1</text><text x="172.4" y="21.5">MRPS18A</text><text x="109.5" y="27.3">FAM117B</text><text x="138.6" y="27.6">LYSMD2</text><text x="166.6" y="27.0">NUDT21</text><text x="190.6" y="27.8">PRAMEF1</text><text x="215.3" y="27.2">FAM20B</text><text x="122.0" y="34.6">TRAPPC6</text><text x="149.7" y="34.1">GREB1</text><text x="166.6" y="32.1">CCDC82</text><text x="198.7" y="33.3">RAB3IL1</text><text x="109.8" y="39.8">C7ORF45</text><text x="150.2" y="38.5">LILRA5</text><text x="175.0" y="39.2">BACH2</text><text x="220.4" y="37.8">FOXO1</text><text x="142.6" y="43.5">LILRA5</text><text x="179.2" y="44.2">C19ORF59</text><text x="159.0" y="51.0">KLF6</text><text x="66.1" y="35.9">C6ORF87</text><text x="81.3" y="46.0">P2RX7</text><text x="83.0" y="51.6">TGOLN2</text><text x="57.6" y="57.3">C6ORF162</text><text x="91.4" y="57.8">C3ORF14</text><text x="62.0" y="63.8">PRLR</text><text x="82.3" y="63.8">EPHX4</text><text x="53.5" y="72.0">KIAA0415</text><text x="77.2" y="70.0">PRM3</text><text x="89.9" y="73.5">MMP26</text><text x="37.4" y="77.5">ST18</text><text x="56.5" y="77.5">HARS2</text><text x="83.3" y="78.0">RAG2</text><text x="71.4" y="83.8">RAB4B</text><text x="72.7" y="87.4">KIAA0965</text><text x="83.3" y="93.2">CDH26</text><text x="40.9" y="91.9">STS</text><text x="32.8" y="116.4">CYP2E1</text><text x="35.3" y="122.7">MDP1</text><text x="58.1" y="140.0">DUSP22</text><text x="34.1" y="142.8">ARTN</text><text x="54.2" y="146.3">FAM174A</text><text x="36.4" y="151.0">BGLAP</text><text x="72.3" y="153.1">DKK1</text><text x="32.1" y="156.2">SPAG7</text><text x="49.9" y="156.2">EFCAB1</text><text x="34.1" y="161.0">EFCAB6</text><text x="55.8" y="163.3">PDXK1</text><text x="32.9" y="166.8">TMEM107</text><text x="42.4" y="172.0">TPK1</text><text x="60.0" y="171.5">TK2</text><text x="36.8" y="179.3">BPNT1</text><text x="58.1" y="179.3">ITGB8</text><text x="31.5" y="185.8">DBI</text><text x="46.7" y="185.3">GLO3</text><text x="54.3" y="188.3">C7ORF55</text><text x="41.7" y="192.6">WDFY3</text><text x="32.8" y="206.0">MAP4</text><text x="66.0" y="211.6">TTYH3</text><text x="83.4" y="215.0">C19ORF54</text><text x="58.1" y="218.2">CCDC115</text><text x="81.8" y="223.3">RBCN3</text><text x="54.2" y="228.2">LOC147727</text><text x="68.4" y="232.9">C7ORF65</text><text x="103.5" y="223.6">CPT1A</text><text x="118.7" y="220.3">IL17RB</text><text x="121.2" y="226.9">ZNF87</text><text x="105.0" y="233.4">PFDN5</text><text x="112.3" y="240.4">CPT1A</text><text x="110.3" y="249.1">COMMD10</text><text x="145.1" y="217.8">AP1G1</text><text x="135.6" y="224.4">CHDH</text><text x="153.2" y="223.1">C12ORF10</text><text x="185.0" y="221.1">EXOC8</text><text x="137.0" y="229.9">AHCY</text><text x="156.5" y="229.4">DCAF8</text><text x="178.5" y="228.7">C1ORF124</text><text x="184.3" y="233.7">DCAF8</text><text x="134.5" y="236.2">C7ORF70</text><text x="159.0" y="236.2">RFX1</text><text x="176.7" y="238.3">MRPL50</text><text x="135.0" y="241.8">ZNF189</text><text x="156.5" y="243.3">USP34</text><text x="173.4" y="244.4">SREK1IP1</text><text x="198.7" y="245.1">PDE12</text><text x="139.6" y="249.4">RNF139</text><text x="164.0" y="249.4">PPAT</text><text x="169.0" y="254.4">CWC27</text><text x="255.5" y="215.4">USAP1</text><text x="274.4" y="212.3">ASF1B</text><text x="250.8" y="222.0">SASS6</text><text x="276.8" y="220.1">ATAD2</text><text x="265.3" y="226.3">ST13</text><text x="259.2" y="21.6">SLC1A5</text><text x="267.5" y="34.3">NPL</text><text x="250.7" y="40.0">ALDH5A1</text><text x="242.3" y="45.2">NDFIP1</text><text x="253.0" y="51.4">FBXW4</text><text x="242.3" y="56.8">KLF13</text><text x="328.7" y="27.8">FECH</text><text x="308.0" y="33.8">ISCA1</text><text x="349.6" y="38.9">MYL4</text><text x="280.2" y="54.0">SLC25A38</text><text x="310.0" y="51.5">TRAK2</text><text x="337.7" y="54.3">GATA1</text><text x="280.2" y="59.8">SLC40A1</text><text x="308.0" y="58.8">DPM2</text><text x="375.6" y="62.4">KLF1</text><text x="289.0" y="69.9">TRIM10</text><text x="321.8" y="69.4">JAZF1</text><text x="368.0" y="75.0">AQP1</text><text x="306.0" y="80.3">TRIM58</text><text x="433.5" y="79.3">PRDX2</text><text x="289.0" y="86.3">KIF23</text><text x="337.0" y="84.8">TPM1</text><text x="340.3" y="90.6">TPM1</text><text x="412.2" y="86.8">ALAS2</text><text x="359.7" y="109.6">ADD2</text><text x="353.4" y="121.7">SELENBP1</text><text x="341.3" y="134.1">OAT</text><text x="354.7" y="139.8">CPOX</text><text x="336.2" y="142.4">FHL2</text><text x="354.7" y="145.7">DLGAP5</text><text x="332.0" y="149.5">SPR2</text><text x="360.5" y="154.3">ANK1</text><text x="376.0" y="155.0">MBOAT2</text><text x="335.7" y="156.3">FAM46C</text><text x="294.5" y="160.1">ALAD</text><text x="387.5" y="160.4">HBA2</text><text x="415.7" y="124.2">SLC4A1</text><text x="472.8" y="131.0">AHSP</text><text x="467.7" y="143.1">CA2</text><text x="430.4" y="150.7">XK</text><text x="502.3" y="153.7">HBD</text><text x="408.9" y="165.6">TFRC</text><text x="408.9" y="172.4">HBM</text><text x="361.0" y="173.9">UROD</text><text x="387.7" y="176.8">BLVRB</text><text x="348.4" y="180.7">KAT2B</text><text x="356.4" y="187.0">CPEB4</text><text x="377.4" y="186.3">STOM</text><text x="289.0" y="188.3">UROS</text><text x="363.5" y="196.4">TMEM56</text></g>
<g fill="#2b35b5"><circle cx="81.5" cy="213.3" r="1.25"/><circle cx="99.6" cy="213.6" r="1.25"/><circle cx="81.3" cy="219.4" r="1.25"/><circle cx="82.6" cy="220.2" r="1.25"/><circle cx="87.3" cy="221.0" r="1.25"/><circle cx="94.4" cy="221.0" r="1.25"/><circle cx="85.7" cy="231.0" r="1.25"/><circle cx="88.9" cy="231.0" r="1.25"/></g>
<g font-size="5.1" font-weight="bold" fill="#111" stroke="#111" stroke-width="0.12" text-anchor="end"><text x="510" y="10.1">Upregulated and hypomethylated</text><text x="511.2" y="110.8">Upregulated</text></g>
<g class="tk" text-anchor="end"><text x="29.2" y="278.9">-10</text><text x="29.2" y="254.3">-8</text><text x="29.2" y="229.8">-6</text><text x="29.2" y="205.2">-4</text><text x="29.2" y="180.7">-2</text><text x="29.2" y="156.1">0</text><text x="29.2" y="131.5">2</text><text x="29.2" y="107.0">4</text><text x="29.2" y="82.4">6</text><text x="29.2" y="57.9">8</text><text x="29.2" y="33.3">10</text></g><g class="tk" text-anchor="middle"><text x="30.5" y="308.2">-10</text><text x="99.8" y="308.2">-5</text><text x="169.3" y="308.2">0</text><text x="238.6" y="308.2">5</text><text x="307.8" y="308.2">10</text><text x="377.1" y="308.2">15</text><text x="446.3" y="308.2">20</text><text x="516.0" y="308.2">25</text></g>
<g class="ax"><text x="44.2" y="314.6">Downregulation</text><text x="460" y="314.4">Upregulation</text><text font-size="5.1" x="184.3" y="313.3" style="font-size:5.1px">Gene expression difference at associated genes (t-statistics)</text><text transform="translate(16.7,70.3) rotate(-90)">Hypomethylation</text><text transform="translate(16.4,288.2) rotate(-90)">Hypermethylation</text><text transform="translate(5.9,189.3) rotate(-90)" style="font-size:6.8px">DNA methylation difference</text><text transform="translate(14.2,195.6) rotate(-90)" style="font-size:6.84px">at associated genes (t-statistics)</text></g>
</svg></body></html>
